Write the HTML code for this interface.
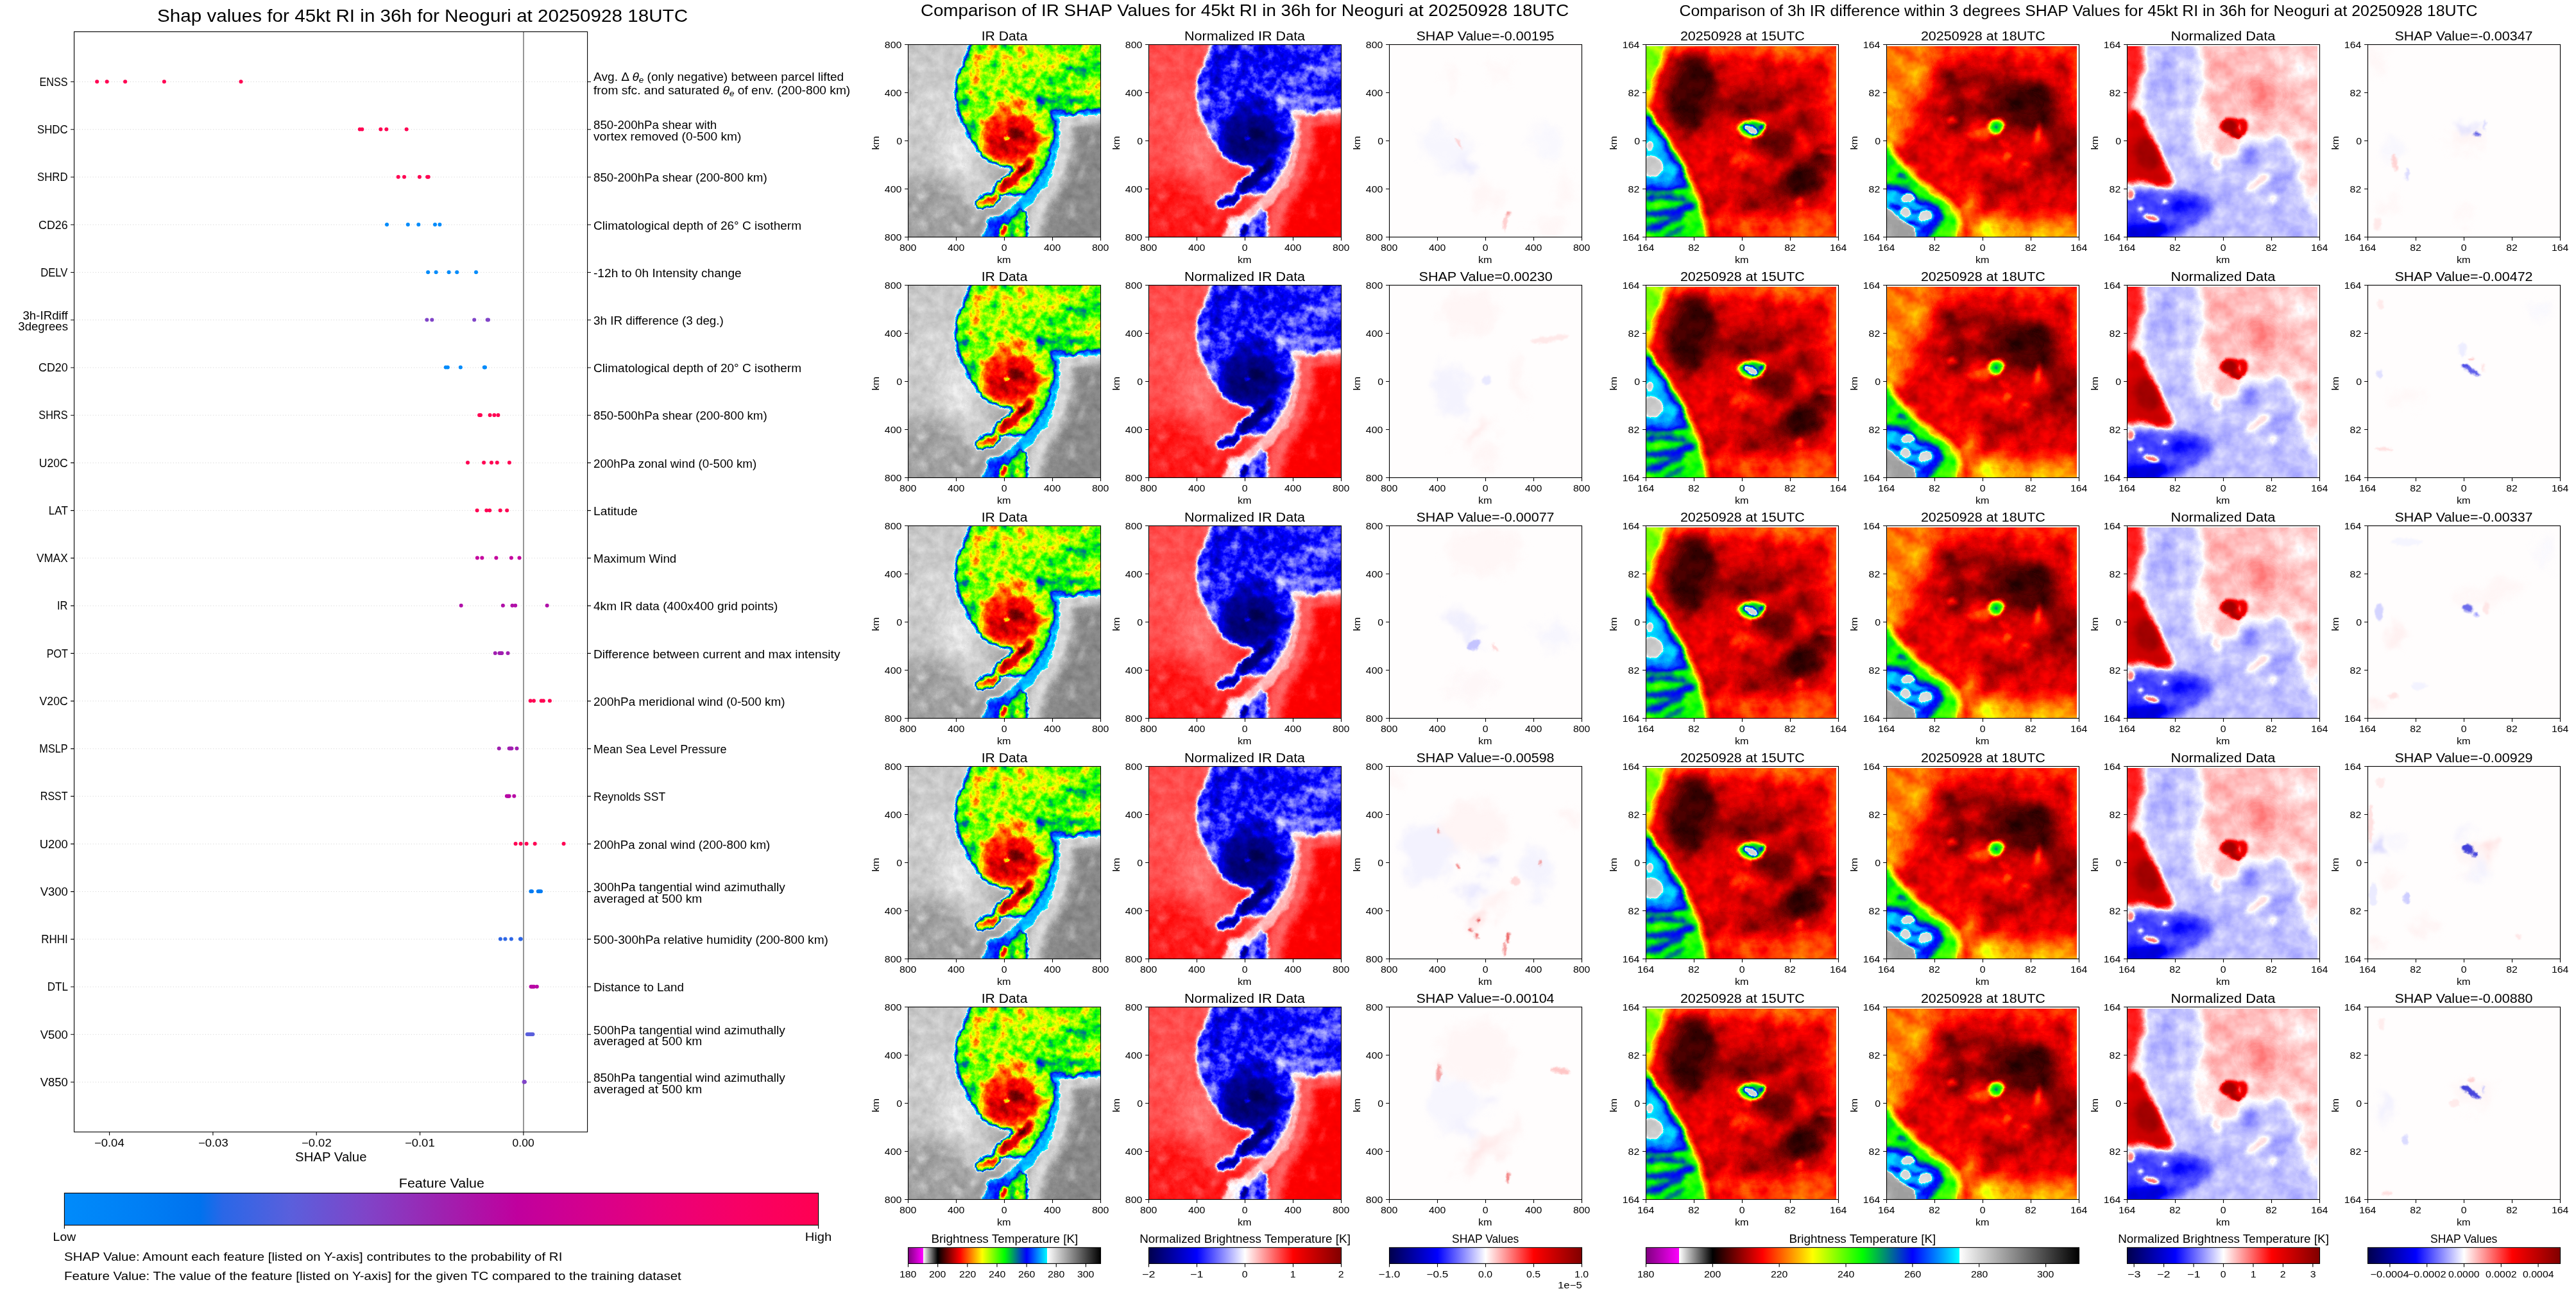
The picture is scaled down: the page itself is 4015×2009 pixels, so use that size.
<!DOCTYPE html>
<html><head><meta charset="utf-8"><title>SHAP figure</title><style>
html,body{margin:0;padding:0;background:#fff}
body{width:4015px;height:2009px;position:relative;overflow:hidden;font-family:"Liberation Sans",sans-serif}
.t{position:absolute;white-space:nowrap;line-height:1;color:#000}
.sb{font-size:70%;position:relative;top:.22em;font-style:italic}
svg{position:absolute;left:0;top:0}
</style></head><body>
<svg width="4015" height="2009" viewBox="0 0 4015 2009">
<g fill="none">
<path d="M115.55 127.50L915.60 127.50" stroke="#c4c4c4" stroke-width="0.9" stroke-dasharray="0.9 3.27"/>
<path d="M115.55 201.74L915.60 201.74" stroke="#c4c4c4" stroke-width="0.9" stroke-dasharray="0.9 3.27"/>
<path d="M115.55 275.98L915.60 275.98" stroke="#c4c4c4" stroke-width="0.9" stroke-dasharray="0.9 3.27"/>
<path d="M115.55 350.22L915.60 350.22" stroke="#c4c4c4" stroke-width="0.9" stroke-dasharray="0.9 3.27"/>
<path d="M115.55 424.46L915.60 424.46" stroke="#c4c4c4" stroke-width="0.9" stroke-dasharray="0.9 3.27"/>
<path d="M115.55 498.70L915.60 498.70" stroke="#c4c4c4" stroke-width="0.9" stroke-dasharray="0.9 3.27"/>
<path d="M115.55 572.94L915.60 572.94" stroke="#c4c4c4" stroke-width="0.9" stroke-dasharray="0.9 3.27"/>
<path d="M115.55 647.18L915.60 647.18" stroke="#c4c4c4" stroke-width="0.9" stroke-dasharray="0.9 3.27"/>
<path d="M115.55 721.42L915.60 721.42" stroke="#c4c4c4" stroke-width="0.9" stroke-dasharray="0.9 3.27"/>
<path d="M115.55 795.66L915.60 795.66" stroke="#c4c4c4" stroke-width="0.9" stroke-dasharray="0.9 3.27"/>
<path d="M115.55 869.90L915.60 869.90" stroke="#c4c4c4" stroke-width="0.9" stroke-dasharray="0.9 3.27"/>
<path d="M115.55 944.14L915.60 944.14" stroke="#c4c4c4" stroke-width="0.9" stroke-dasharray="0.9 3.27"/>
<path d="M115.55 1018.38L915.60 1018.38" stroke="#c4c4c4" stroke-width="0.9" stroke-dasharray="0.9 3.27"/>
<path d="M115.55 1092.62L915.60 1092.62" stroke="#c4c4c4" stroke-width="0.9" stroke-dasharray="0.9 3.27"/>
<path d="M115.55 1166.86L915.60 1166.86" stroke="#c4c4c4" stroke-width="0.9" stroke-dasharray="0.9 3.27"/>
<path d="M115.55 1241.10L915.60 1241.10" stroke="#c4c4c4" stroke-width="0.9" stroke-dasharray="0.9 3.27"/>
<path d="M115.55 1315.34L915.60 1315.34" stroke="#c4c4c4" stroke-width="0.9" stroke-dasharray="0.9 3.27"/>
<path d="M115.55 1389.58L915.60 1389.58" stroke="#c4c4c4" stroke-width="0.9" stroke-dasharray="0.9 3.27"/>
<path d="M115.55 1463.82L915.60 1463.82" stroke="#c4c4c4" stroke-width="0.9" stroke-dasharray="0.9 3.27"/>
<path d="M115.55 1538.06L915.60 1538.06" stroke="#c4c4c4" stroke-width="0.9" stroke-dasharray="0.9 3.27"/>
<path d="M115.55 1612.30L915.60 1612.30" stroke="#c4c4c4" stroke-width="0.9" stroke-dasharray="0.9 3.27"/>
<path d="M115.55 1686.54L915.60 1686.54" stroke="#c4c4c4" stroke-width="0.9" stroke-dasharray="0.9 3.27"/>
<path d="M816.00 49.50L816.00 1764.20" stroke="#969696" stroke-width="2.0" />
</g>
<g fill="#ff0052"><circle cx="151.2" cy="127.2" r="3"/><circle cx="166.7" cy="127.2" r="3"/><circle cx="195.1" cy="127.2" r="3"/><circle cx="255.9" cy="127.2" r="3"/><circle cx="375.5" cy="127.2" r="3"/></g>
<g fill="#ff0052"><circle cx="560.8" cy="201.4" r="3"/><circle cx="564.3" cy="201.4" r="3"/><circle cx="593.3" cy="201.4" r="3"/><circle cx="602.3" cy="201.4" r="3"/><circle cx="633.6" cy="201.4" r="3"/></g>
<g fill="#ff0052"><circle cx="620.7" cy="275.7" r="3"/><circle cx="630.0" cy="275.7" r="3"/><circle cx="653.9" cy="275.7" r="3"/><circle cx="666.1" cy="275.7" r="3"/><circle cx="667.7" cy="275.7" r="3"/></g>
<g fill="#008bfb"><circle cx="603.0" cy="349.9" r="3"/><circle cx="635.8" cy="349.9" r="3"/><circle cx="652.3" cy="349.9" r="3"/><circle cx="678.0" cy="349.9" r="3"/><circle cx="685.4" cy="349.9" r="3"/></g>
<g fill="#008bfb"><circle cx="667.1" cy="424.2" r="3"/><circle cx="679.6" cy="424.2" r="3"/><circle cx="699.6" cy="424.2" r="3"/><circle cx="712.2" cy="424.2" r="3"/><circle cx="742.0" cy="424.2" r="3"/></g>
<g fill="#8044c8"><circle cx="665.4" cy="498.4" r="3"/><circle cx="673.3" cy="498.4" r="3"/><circle cx="739.2" cy="498.4" r="3"/><circle cx="759.7" cy="498.4" r="3"/><circle cx="761.1" cy="498.4" r="3"/></g>
<g fill="#008bfb"><circle cx="694.8" cy="572.6" r="3"/><circle cx="697.8" cy="572.6" r="3"/><circle cx="717.8" cy="572.6" r="3"/><circle cx="754.8" cy="572.6" r="3"/><circle cx="756.0" cy="572.6" r="3"/></g>
<g fill="#ff0052"><circle cx="747.1" cy="646.9" r="3"/><circle cx="749.0" cy="646.9" r="3"/><circle cx="763.6" cy="646.9" r="3"/><circle cx="770.4" cy="646.9" r="3"/><circle cx="776.4" cy="646.9" r="3"/></g>
<g fill="#ff0052"><circle cx="729.0" cy="721.1" r="3"/><circle cx="754.1" cy="721.1" r="3"/><circle cx="766.0" cy="721.1" r="3"/><circle cx="774.8" cy="721.1" r="3"/><circle cx="793.9" cy="721.1" r="3"/></g>
<g fill="#ff0052"><circle cx="743.6" cy="795.4" r="3"/><circle cx="758.3" cy="795.4" r="3"/><circle cx="763.2" cy="795.4" r="3"/><circle cx="779.7" cy="795.4" r="3"/><circle cx="790.2" cy="795.4" r="3"/></g>
<g fill="#c4009e"><circle cx="743.9" cy="869.6" r="3"/><circle cx="751.3" cy="869.6" r="3"/><circle cx="773.4" cy="869.6" r="3"/><circle cx="796.9" cy="869.6" r="3"/><circle cx="809.5" cy="869.6" r="3"/></g>
<g fill="#b010a8"><circle cx="718.7" cy="943.8" r="3"/><circle cx="783.9" cy="943.8" r="3"/><circle cx="798.5" cy="943.8" r="3"/><circle cx="803.2" cy="943.8" r="3"/><circle cx="852.7" cy="943.8" r="3"/></g>
<g fill="#a01eb0"><circle cx="771.8" cy="1018.1" r="3"/><circle cx="778.5" cy="1018.1" r="3"/><circle cx="780.6" cy="1018.1" r="3"/><circle cx="782.2" cy="1018.1" r="3"/><circle cx="791.6" cy="1018.1" r="3"/></g>
<g fill="#ff0052"><circle cx="826.7" cy="1092.3" r="3"/><circle cx="832.0" cy="1092.3" r="3"/><circle cx="843.7" cy="1092.3" r="3"/><circle cx="846.9" cy="1092.3" r="3"/><circle cx="856.9" cy="1092.3" r="3"/></g>
<g fill="#a01eb0"><circle cx="777.8" cy="1166.6" r="3"/><circle cx="793.6" cy="1166.6" r="3"/><circle cx="795.5" cy="1166.6" r="3"/><circle cx="797.4" cy="1166.6" r="3"/><circle cx="805.5" cy="1166.6" r="3"/></g>
<g fill="#b808a5"><circle cx="789.9" cy="1240.8" r="3"/><circle cx="791.3" cy="1240.8" r="3"/><circle cx="792.7" cy="1240.8" r="3"/><circle cx="793.6" cy="1240.8" r="3"/><circle cx="801.3" cy="1240.8" r="3"/></g>
<g fill="#ff0052"><circle cx="803.6" cy="1315.0" r="3"/><circle cx="811.6" cy="1315.0" r="3"/><circle cx="820.6" cy="1315.0" r="3"/><circle cx="833.7" cy="1315.0" r="3"/><circle cx="878.6" cy="1315.0" r="3"/></g>
<g fill="#007bf2"><circle cx="827.4" cy="1389.3" r="3"/><circle cx="829.0" cy="1389.3" r="3"/><circle cx="838.8" cy="1389.3" r="3"/><circle cx="840.9" cy="1389.3" r="3"/><circle cx="843.0" cy="1389.3" r="3"/></g>
<g fill="#2e67e6"><circle cx="779.9" cy="1463.5" r="3"/><circle cx="787.4" cy="1463.5" r="3"/><circle cx="796.9" cy="1463.5" r="3"/><circle cx="811.8" cy="1463.5" r="3"/><circle cx="811.0" cy="1463.5" r="3"/></g>
<g fill="#b808a5"><circle cx="827.6" cy="1537.8" r="3"/><circle cx="829.0" cy="1537.8" r="3"/><circle cx="830.9" cy="1537.8" r="3"/><circle cx="832.3" cy="1537.8" r="3"/><circle cx="836.9" cy="1537.8" r="3"/></g>
<g fill="#5a5fdc"><circle cx="821.8" cy="1612.0" r="3"/><circle cx="824.1" cy="1612.0" r="3"/><circle cx="826.2" cy="1612.0" r="3"/><circle cx="828.5" cy="1612.0" r="3"/><circle cx="830.4" cy="1612.0" r="3"/></g>
<g fill="#8044c8"><circle cx="816.7" cy="1686.2" r="3"/><circle cx="817.8" cy="1686.2" r="3"/><circle cx="817.2" cy="1686.2" r="3"/><circle cx="817.0" cy="1686.2" r="3"/><circle cx="817.5" cy="1686.2" r="3"/></g>
<g fill="none">
<rect x="115.55" y="49.5" width="800.05" height="1714.70" stroke="#000" stroke-width="1.11"/>
<path d="M110.15 127.50H115.55M915.60 127.50h5.4M110.15 201.74H115.55M915.60 201.74h5.4M110.15 275.98H115.55M915.60 275.98h5.4M110.15 350.22H115.55M915.60 350.22h5.4M110.15 424.46H115.55M915.60 424.46h5.4M110.15 498.70H115.55M915.60 498.70h5.4M110.15 572.94H115.55M915.60 572.94h5.4M110.15 647.18H115.55M915.60 647.18h5.4M110.15 721.42H115.55M915.60 721.42h5.4M110.15 795.66H115.55M915.60 795.66h5.4M110.15 869.90H115.55M915.60 869.90h5.4M110.15 944.14H115.55M915.60 944.14h5.4M110.15 1018.38H115.55M915.60 1018.38h5.4M110.15 1092.62H115.55M915.60 1092.62h5.4M110.15 1166.86H115.55M915.60 1166.86h5.4M110.15 1241.10H115.55M915.60 1241.10h5.4M110.15 1315.34H115.55M915.60 1315.34h5.4M110.15 1389.58H115.55M915.60 1389.58h5.4M110.15 1463.82H115.55M915.60 1463.82h5.4M110.15 1538.06H115.55M915.60 1538.06h5.4M110.15 1612.30H115.55M915.60 1612.30h5.4M110.15 1686.54H115.55M915.60 1686.54h5.4M170.58 1764.2v5.4M331.91 1764.2v5.4M493.24 1764.2v5.4M654.57 1764.2v5.4M815.90 1764.2v5.4" stroke="#000" stroke-width="1.11"/>
</g>
<defs><linearGradient id="rb"><stop offset="0" stop-color="#008bfb"/><stop offset=".1" stop-color="#007ff5"/><stop offset=".18" stop-color="#0072ee"/><stop offset=".21" stop-color="#2a67e7"/><stop offset=".3" stop-color="#5a5fdc"/><stop offset=".4" stop-color="#8044c8"/><stop offset=".5" stop-color="#9e22b0"/><stop offset=".6" stop-color="#c0009e"/><stop offset=".7" stop-color="#d6008c"/><stop offset=".8" stop-color="#ea0078"/><stop offset=".9" stop-color="#f80064"/><stop offset="1" stop-color="#ff0052"/></linearGradient></defs>
<rect x="100.4" y="1859.5" width="1175.2" height="50" fill="url(#rb)" stroke="#000" stroke-width="1.11"/>
<path d="M100.4 1909.5v5.4M1275.6 1909.5v5.4" stroke="#000" stroke-width="1.11" fill="none"/>
<defs><linearGradient id="gIR"><stop offset="0.0000" stop-color="#800080"/><stop offset="0.0385" stop-color="#bf00bf"/><stop offset="0.0769" stop-color="#ff00ff"/><stop offset="0.0769" stop-color="#ffffff"/><stop offset="0.1154" stop-color="#808080"/><stop offset="0.1538" stop-color="#000000"/><stop offset="0.1923" stop-color="#550000"/><stop offset="0.2308" stop-color="#aa0000"/><stop offset="0.2692" stop-color="#ff0000"/><stop offset="0.3077" stop-color="#ff5500"/><stop offset="0.3462" stop-color="#ffaa00"/><stop offset="0.3846" stop-color="#ffff00"/><stop offset="0.4231" stop-color="#aaff00"/><stop offset="0.4615" stop-color="#55ff00"/><stop offset="0.5000" stop-color="#00ff00"/><stop offset="0.5385" stop-color="#00aa55"/><stop offset="0.5769" stop-color="#0055aa"/><stop offset="0.6154" stop-color="#0000ff"/><stop offset="0.6538" stop-color="#005bff"/><stop offset="0.6923" stop-color="#00b6ff"/><stop offset="0.7231" stop-color="#00ffff"/><stop offset="0.7231" stop-color="#ffffff"/><stop offset="0.7692" stop-color="#d4d4d4"/><stop offset="0.8462" stop-color="#8e8e8e"/><stop offset="0.9231" stop-color="#474747"/><stop offset="1.0000" stop-color="#000000"/></linearGradient><linearGradient id="gSE"><stop offset="0" stop-color="#00004c"/><stop offset=".25" stop-color="#0000ff"/><stop offset=".5" stop-color="#fff"/><stop offset=".75" stop-color="#ff0000"/><stop offset="1" stop-color="#800000"/></linearGradient></defs>
<defs><filter id="b1" x="-50%" y="-50%" width="200%" height="200%" color-interpolation-filters="sRGB"><feGaussianBlur stdDeviation="1"/></filter><filter id="b1_5" x="-50%" y="-50%" width="200%" height="200%" color-interpolation-filters="sRGB"><feGaussianBlur stdDeviation="1.5"/></filter><filter id="b2" x="-50%" y="-50%" width="200%" height="200%" color-interpolation-filters="sRGB"><feGaussianBlur stdDeviation="2"/></filter><filter id="b3" x="-50%" y="-50%" width="200%" height="200%" color-interpolation-filters="sRGB"><feGaussianBlur stdDeviation="3"/></filter><filter id="b4" x="-50%" y="-50%" width="200%" height="200%" color-interpolation-filters="sRGB"><feGaussianBlur stdDeviation="4"/></filter><filter id="b5" x="-50%" y="-50%" width="200%" height="200%" color-interpolation-filters="sRGB"><feGaussianBlur stdDeviation="5"/></filter><filter id="b6" x="-50%" y="-50%" width="200%" height="200%" color-interpolation-filters="sRGB"><feGaussianBlur stdDeviation="6"/></filter><filter id="b8" x="-50%" y="-50%" width="200%" height="200%" color-interpolation-filters="sRGB"><feGaussianBlur stdDeviation="8"/></filter><filter id="b10" x="-50%" y="-50%" width="200%" height="200%" color-interpolation-filters="sRGB"><feGaussianBlur stdDeviation="10"/></filter><filter id="b14" x="-50%" y="-50%" width="200%" height="200%" color-interpolation-filters="sRGB"><feGaussianBlur stdDeviation="14"/></filter><filter id="b20" x="-50%" y="-50%" width="200%" height="200%" color-interpolation-filters="sRGB"><feGaussianBlur stdDeviation="20"/></filter><clipPath id="c300"><rect width="300" height="300"/></clipPath><clipPath id="c4"><rect y="2.5" width="296.5" height="297.5"/></clipPath><filter id="fIR" filterUnits="userSpaceOnUse" x="-20" y="-20" width="340" height="340" color-interpolation-filters="sRGB"><feTurbulence type="fractalNoise" baseFrequency="0.07" numOctaves="4" seed="7" result="n"/><feDisplacementMap in="SourceGraphic" in2="n" scale="9" xChannelSelector="R" yChannelSelector="G" result="d"/><feColorMatrix in="n" type="matrix" values="0 0 1 0 0 0 0 1 0 0 0 0 1 0 0 0 0 0 0 1" result="ng"/><feComponentTransfer in="d" result="m"><feFuncR type="table" tableValues="0 0 0.04 0.08 0.14 0.28 0.34 0.2 0.12 0.08 0.05 0.05 0.05 0.05"/><feFuncG type="table" tableValues="0 0 0.04 0.08 0.14 0.28 0.34 0.2 0.12 0.08 0.05 0.05 0.05 0.05"/><feFuncB type="table" tableValues="0 0 0.04 0.08 0.14 0.28 0.34 0.2 0.12 0.08 0.05 0.05 0.05 0.05"/></feComponentTransfer><feComposite in="m" in2="ng" operator="arithmetic" k1="1" k2="0" k3="0" k4="0" result="p"/><feComposite in="d" in2="m" operator="arithmetic" k1="0" k2="1" k3="-0.5" k4="0" result="t"/><feComposite in="t" in2="p" operator="arithmetic" k1="0" k2="1" k3="1" k4="0" result="f"/><feComponentTransfer in="f"><feFuncR type="table" tableValues="0.5 0.55 0.6 0.65 0.7 0.75 0.8 0.85 0.9 0.95 1 0.9 0.8 0.7 0.6 0.5 0.4 0.3 0.2 0.1 0 0.067 0.133 0.2 0.267 0.333 0.4 0.467 0.533 0.6 0.667 0.733 0.8 0.867 0.933 1 1 1 1 1 1 1 1 1 1 1 1 1 1 1 1 0.933 0.867 0.8 0.733 0.667 0.6 0.533 0.467 0.4 0.333 0.267 0.2 0.133 0.067 0 0 0 0 0 0 0 0 0 0 0 0 0 0 0 0 0 0 0 0 0 0 0 0 0 0 0 0 0 0 0.972 0.944 0.917 0.889 0.861 0.833 0.806 0.778 0.75 0.722 0.694 0.667 0.639 0.611 0.583 0.556 0.528 0.5 0.472 0.444 0.417 0.389 0.361 0.333 0.306 0.278 0.25 0.222 0.194 0.167 0.139 0.111 0.083 0.056 0.028 0"/><feFuncG type="table" tableValues="0 0 0 0 0 0 0 0 0 0 0 0.9 0.8 0.7 0.6 0.5 0.4 0.3 0.2 0.1 0 0 0 0 0 0 0 0 0 0 0 0 0 0 0 0 0.067 0.133 0.2 0.267 0.333 0.4 0.467 0.533 0.6 0.667 0.733 0.8 0.867 0.933 1 1 1 1 1 1 1 1 1 1 1 1 1 1 1 1 0.933 0.867 0.8 0.733 0.667 0.6 0.533 0.467 0.4 0.333 0.267 0.2 0.133 0.067 0 0.071 0.143 0.214 0.286 0.357 0.429 0.5 0.571 0.643 0.714 0.786 0.857 0.929 1 0.972 0.944 0.917 0.889 0.861 0.833 0.806 0.778 0.75 0.722 0.694 0.667 0.639 0.611 0.583 0.556 0.528 0.5 0.472 0.444 0.417 0.389 0.361 0.333 0.306 0.278 0.25 0.222 0.194 0.167 0.139 0.111 0.083 0.056 0.028 0"/><feFuncB type="table" tableValues="0.5 0.55 0.6 0.65 0.7 0.75 0.8 0.85 0.9 0.95 1 0.9 0.8 0.7 0.6 0.5 0.4 0.3 0.2 0.1 0 0 0 0 0 0 0 0 0 0 0 0 0 0 0 0 0 0 0 0 0 0 0 0 0 0 0 0 0 0 0 0 0 0 0 0 0 0 0 0 0 0 0 0 0 0 0.067 0.133 0.2 0.267 0.333 0.4 0.467 0.533 0.6 0.667 0.733 0.8 0.867 0.933 1 1 1 1 1 1 1 1 1 1 1 1 1 1 1 0.972 0.944 0.917 0.889 0.861 0.833 0.806 0.778 0.75 0.722 0.694 0.667 0.639 0.611 0.583 0.556 0.528 0.5 0.472 0.444 0.417 0.389 0.361 0.333 0.306 0.278 0.25 0.222 0.194 0.167 0.139 0.111 0.083 0.056 0.028 0"/></feComponentTransfer></filter><filter id="fSE1" filterUnits="userSpaceOnUse" x="-20" y="-20" width="340" height="340" color-interpolation-filters="sRGB"><feTurbulence type="fractalNoise" baseFrequency="0.07" numOctaves="4" seed="7" result="n"/><feDisplacementMap in="SourceGraphic" in2="n" scale="9" xChannelSelector="R" yChannelSelector="G" result="d"/><feColorMatrix in="n" type="matrix" values="0 0 1 0 0 0 0 1 0 0 0 0 1 0 0 0 0 0 0 1" result="ng"/><feComponentTransfer in="d" result="m"><feFuncR type="table" tableValues="0 0 0.04 0.08 0.14 0.28 0.34 0.2 0.12 0.08 0.05 0.05 0.05 0.05"/><feFuncG type="table" tableValues="0 0 0.04 0.08 0.14 0.28 0.34 0.2 0.12 0.08 0.05 0.05 0.05 0.05"/><feFuncB type="table" tableValues="0 0 0.04 0.08 0.14 0.28 0.34 0.2 0.12 0.08 0.05 0.05 0.05 0.05"/></feComponentTransfer><feComposite in="m" in2="ng" operator="arithmetic" k1="1" k2="0" k3="0" k4="0" result="p"/><feComposite in="d" in2="m" operator="arithmetic" k1="0" k2="1" k3="-0.5" k4="0" result="t"/><feComposite in="t" in2="p" operator="arithmetic" k1="0" k2="1" k3="1" k4="0" result="f"/><feComponentTransfer in="f"><feFuncR type="table" tableValues="0 0 0 0 0 0 0 0 0 0 0 0 0 0 0 0 0 0 0 0 0 0 0 0 0 0 0 0 0 0 0 0 0 0 0 0 0 0 0 0 0 0 0 0 0 0 0 0 0 0 0 0 0 0 0 0.036 0.071 0.107 0.143 0.179 0.214 0.25 0.286 0.321 0.357 0.393 0.429 0.464 0.5 0.536 0.571 0.607 0.643 0.679 0.714 0.75 0.786 0.821 0.857 0.893 0.929 0.964 1 1 1 1 1 1 1 1 1 1 1 1 1 1 1 1 1 1 1 1 1 1 1 1 1 1 1 1 1 0.982 0.964 0.946 0.929 0.911 0.893 0.875 0.857 0.839 0.821 0.804 0.786 0.768 0.75 0.732 0.714 0.696 0.679 0.661 0.643"/><feFuncG type="table" tableValues="0 0 0 0 0 0 0 0 0 0 0 0 0 0 0 0 0 0 0 0 0 0 0 0 0 0 0 0 0 0 0 0 0 0 0 0 0 0 0 0 0 0 0 0 0 0 0 0 0 0 0 0 0 0 0 0.036 0.071 0.107 0.143 0.179 0.214 0.25 0.286 0.321 0.357 0.393 0.429 0.464 0.5 0.536 0.571 0.607 0.643 0.679 0.714 0.75 0.786 0.821 0.857 0.893 0.929 0.964 1 0.964 0.929 0.893 0.857 0.821 0.786 0.75 0.714 0.679 0.643 0.607 0.571 0.536 0.5 0.464 0.429 0.393 0.357 0.321 0.286 0.25 0.214 0.179 0.143 0.107 0.071 0.036 0 0 0 0 0 0 0 0 0 0 0 0 0 0 0 0 0 0 0 0 0"/><feFuncB type="table" tableValues="0.3 0.3 0.3 0.3 0.3 0.3 0.3 0.3 0.3 0.3 0.3 0.3 0.3 0.3 0.3 0.3 0.3 0.3 0.3 0.3 0.3 0.3 0.3 0.3 0.3 0.3 0.3 0.325 0.35 0.375 0.4 0.425 0.45 0.475 0.5 0.525 0.55 0.575 0.6 0.625 0.65 0.675 0.7 0.725 0.75 0.775 0.8 0.825 0.85 0.875 0.9 0.925 0.95 0.975 1 1 1 1 1 1 1 1 1 1 1 1 1 1 1 1 1 1 1 1 1 1 1 1 1 1 1 1 1 0.964 0.929 0.893 0.857 0.821 0.786 0.75 0.714 0.679 0.643 0.607 0.571 0.536 0.5 0.464 0.429 0.393 0.357 0.321 0.286 0.25 0.214 0.179 0.143 0.107 0.071 0.036 0 0 0 0 0 0 0 0 0 0 0 0 0 0 0 0 0 0 0 0 0"/></feComponentTransfer></filter><filter id="shA" filterUnits="userSpaceOnUse" x="-20" y="-20" width="340" height="340" color-interpolation-filters="sRGB"><feGaussianBlur stdDeviation="7" result="b"/><feTurbulence type="fractalNoise" baseFrequency="0.03" numOctaves="3" seed="4" result="n"/><feDisplacementMap in="b" in2="n" scale="40" xChannelSelector="R" yChannelSelector="G"/></filter><filter id="shB" filterUnits="userSpaceOnUse" x="-20" y="-20" width="340" height="340" color-interpolation-filters="sRGB"><feGaussianBlur stdDeviation="1.3" result="b"/><feTurbulence type="fractalNoise" baseFrequency="0.12" numOctaves="2" seed="9" result="n"/><feDisplacementMap in="b" in2="n" scale="7" xChannelSelector="R" yChannelSelector="G"/></filter><g id="F1"><rect x="-30" y="-30" width="360" height="360" fill="#d5d5d5"/><g filter="url(#b14)"><path d="M-30 -30H120L90 140 130 200 -30 220Z" fill="#c7c7c7"/><path d="M-30 215L120 195 150 260 110 330H-30Z" fill="#d3d3d3"/><ellipse cx="161" cy="240" rx="12" ry="9" fill="#bababa"/><ellipse cx="82" cy="165" rx="33" ry="44" fill="#bfbfbf"/><ellipse cx="35" cy="95" rx="30" ry="16" fill="#c2c2c2" transform="rotate(-35 35 95)"/><path d="M240 125L330 110V330H200Z" fill="#d9d9d9"/><path d="M60 210L140 195 150 230 110 260Z" fill="#c6c6c6"/></g><g filter="url(#b3)"><ellipse cx="20" cy="235" rx="9" ry="5" fill="#c8c8c8"/><ellipse cx="48" cy="262" rx="12" ry="6" fill="#c9c9c9" transform="rotate(-20 48 262)"/><ellipse cx="22" cy="280" rx="8" ry="8" fill="#cacaca"/><ellipse cx="75" cy="285" rx="10" ry="5" fill="#c8c8c8" transform="rotate(20 75 285)"/><ellipse cx="95" cy="240" rx="8" ry="10" fill="#c6c6c6"/><ellipse cx="60" cy="225" rx="10" ry="4" fill="#c8c8c8" transform="rotate(-15 60 225)"/><ellipse cx="10" cy="255" rx="5" ry="8" fill="#cacaca"/><ellipse cx="100" cy="275" rx="6" ry="8" fill="#c9c9c9"/><ellipse cx="270" cy="200" rx="3" ry="14" fill="#cccccc" transform="rotate(20 270 200)"/><ellipse cx="255" cy="260" rx="3" ry="16" fill="#cdcdcd" transform="rotate(15 255 260)"/><ellipse cx="285" cy="150" rx="2.5" ry="10" fill="#cccccc" transform="rotate(25 285 150)"/></g><g filter="url(#b6)" fill="none" stroke-linecap="round"><path d="M244 118C250 160 242 190 226 218S198 262 192 310" stroke="#c2c2c2" stroke-width="22"/><path d="M232 115Q262 116 310 112" stroke="#c2c2c2" stroke-width="18"/></g><g filter="url(#b2)" fill="none" stroke-linecap="round"><path d="M229 118C235 150 229 175 218 197" stroke="#afafaf" stroke-width="11"/><path d="M218 197C207 217 180 253 150 271" stroke="#b0b0b0" stroke-width="18"/><path d="M98 135Q116 163 150 184" stroke="#ababab" stroke-width="9"/><path d="M226 106Q262 107 310 103" stroke="#a9a9a9" stroke-width="9"/><path d="M150 272Q128 280 120 310" stroke="#a7a7a7" stroke-width="16"/><path d="M135 280L150 310" stroke="#a1a1a1" stroke-width="26"/></g><g filter="url(#b2)"><path d="M101 -30L100 0 90 25 81 44 76.5 62 76 78 79 99 84 113 94 132 101 148 110 159 121 168 133 176 146 182 158 186 170 190 164 199 154 208 145 216 137 223 134 229 150 231 167 234 183 230 195 216 206 199 215 181 222 161 227 141 227 126 223 113 219 105 224 101 236 99 248 104 258 107 268 103 281 101 300 99 330 97 V-30Z" fill="#727272" stroke="#a3a3a3" stroke-width="7" stroke-linejoin="round" paint-order="stroke"/><ellipse cx="125" cy="243" rx="20" ry="9.5" fill="#767676" transform="rotate(-25 125 243)"/><path d="M161 266L172 258 184 262 186 280 184 310H150L154 285Z" fill="#7c7c7c"/></g><g filter="url(#b5)"><ellipse cx="195" cy="22" rx="40" ry="16" fill="#666666"/><ellipse cx="246" cy="22" rx="14" ry="10" fill="#6a6a6a"/><ellipse cx="289" cy="66" rx="14" ry="18" fill="#666666"/><ellipse cx="152" cy="50" rx="30" ry="18" fill="#6a6a6a"/><ellipse cx="102" cy="52" rx="11" ry="36" fill="#626262" transform="rotate(18 102 52)"/><ellipse cx="129" cy="10" rx="6" ry="11" fill="#525252" transform="rotate(20 129 10)"/><ellipse cx="218" cy="88" rx="28" ry="7" fill="#959595" transform="rotate(14 218 88)"/><ellipse cx="272" cy="44" rx="14" ry="6" fill="#939393" transform="rotate(10 272 44)"/><ellipse cx="260" cy="4" rx="12" ry="5" fill="#959595"/><ellipse cx="294" cy="32" rx="8" ry="8" fill="#939393"/><ellipse cx="262" cy="86" rx="30" ry="6" fill="#8f8f8f" transform="rotate(-8 262 86)"/><ellipse cx="235" cy="58" rx="16" ry="7" fill="#878787" transform="rotate(-25 235 58)"/><ellipse cx="101" cy="128" rx="7" ry="9" fill="#9b9b9b"/><ellipse cx="86" cy="85" rx="5" ry="22" fill="#8b8b8b"/></g><g filter="url(#b4)"><ellipse cx="162" cy="141" rx="56" ry="50" fill="#646464"/><ellipse cx="158" cy="96" rx="28" ry="10" fill="#585858" transform="rotate(-30 158 96)"/><ellipse cx="148" cy="112" rx="30" ry="14" fill="#505050" transform="rotate(-32 148 112)"/></g><g filter="url(#b3)"><ellipse cx="161" cy="146" rx="47" ry="40" fill="#4c4c4c" transform="rotate(-15 161 146)"/><ellipse cx="162" cy="148" rx="40" ry="33" fill="#444444" transform="rotate(-15 162 148)"/><ellipse cx="202" cy="128" rx="4" ry="9" fill="#767676" transform="rotate(-20 202 128)"/><ellipse cx="167" cy="106" rx="4" ry="3" fill="#767676"/></g><g filter="url(#b3)"><ellipse cx="167" cy="140" rx="12" ry="7" fill="#333333" transform="rotate(25 167 140)"/><ellipse cx="150" cy="160" rx="14" ry="6" fill="#3d3d3d" transform="rotate(30 150 160)"/></g><circle cx="153.2" cy="145.8" r="2.8" fill="#7a7a7a" filter="url(#b1)"/><g filter="url(#b2)" fill="none" stroke-linecap="round"><path d="M188 184Q182 198 163 210T146 223" stroke="#565656" stroke-width="18"/><path d="M186 186Q181 198 163 210T148 222" stroke="#3d3d3d" stroke-width="13"/><path d="M181 191L174 199" stroke="#2d2d2d" stroke-width="6"/><path d="M113 248L137 238" stroke="#565656" stroke-width="10"/><path d="M117 246L133 239" stroke="#3f3f3f" stroke-width="5"/><path d="M146 296Q150 288 151 284" stroke="#3f3f3f" stroke-width="9"/><path d="M170 294L171 288" stroke="#585858" stroke-width="6"/></g></g><g id="F4"><rect x="-30" y="-30" width="360" height="360" fill="#414141"/><g filter="url(#b10)"><path d="M30 -30H330V22Q200 30 120 14L30 22Z" fill="#4c4c4c"/><ellipse cx="200" cy="2" rx="40" ry="10" fill="#515151"/><path d="M278 -30H330V330H100V272Q180 264 240 262T290 240Q270 120 278 -30Z" fill="#4a4a4a"/><ellipse cx="250" cy="284" rx="50" ry="16" fill="#4e4e4e"/><ellipse cx="120" cy="235" rx="45" ry="30" fill="#404040"/><ellipse cx="146" cy="166" rx="20" ry="24" fill="#484848" transform="rotate(-30 146 166)"/></g><g filter="url(#b8)"><ellipse cx="72" cy="74" rx="40" ry="64" fill="#323232" transform="rotate(8 72 74)"/><ellipse cx="72" cy="62" rx="28" ry="40" fill="#2f2f2f" transform="rotate(8 72 62)"/><ellipse cx="62" cy="114" rx="22" ry="24" fill="#2f2f2f"/><ellipse cx="165" cy="88" rx="62" ry="26" fill="#383838" transform="rotate(-8 165 88)"/><ellipse cx="206" cy="154" rx="28" ry="25" fill="#333333"/><ellipse cx="242" cy="212" rx="38" ry="25" fill="#2d2d2d" transform="rotate(-20 242 212)"/><ellipse cx="276" cy="180" rx="24" ry="18" fill="#333333" transform="rotate(-30 276 180)"/><ellipse cx="190" cy="240" rx="36" ry="14" fill="#353535" transform="rotate(-25 190 240)"/><ellipse cx="255" cy="120" rx="30" ry="16" fill="#3a3a3a" transform="rotate(20 255 120)"/></g><g filter="url(#b3)"><ellipse cx="140" cy="178" rx="5" ry="5" fill="#4e4e4e"/><ellipse cx="131" cy="162" rx="5" ry="5" fill="#4c4c4c"/><ellipse cx="150" cy="192" rx="5" ry="4" fill="#4c4c4c"/><ellipse cx="158" cy="150" rx="7" ry="5" fill="#4c4c4c"/><ellipse cx="238" cy="246" rx="5" ry="8" fill="#4e4e4e" transform="rotate(30 238 246)"/><ellipse cx="282" cy="166" rx="14" ry="2.5" fill="#505050" transform="rotate(5 282 166)"/></g><g filter="url(#b3)"><path d="M-30 -30H44L38 2 26 40 12 72 5 97 27 130 49 164 69 202 84 239 96 276 102 330H-30Z" fill="#5a5a5a"/></g><g filter="url(#b2)"><path d="M-30 -30H32L28 2 17 40 4 70 -30 80Z" fill="#727272"/><path d="M-30 95L2 99 22 132 43 166 62 204 77 240 89 277 94 330H-30Z" fill="#7c7c7c"/></g><g filter="url(#b3)"><path d="M-30 106L6 110 22 134 40 166 60 200 64 222 40 228 -30 232Z" fill="#a1a1a1"/></g><g filter="url(#b3)"><path d="M-30 122L4 124 16 140 32 170 48 200 40 216 -30 222Z" fill="#b1b1b1"/><path d="M-10 262Q30 268 68 252" stroke="#9d9d9d" stroke-width="12" fill="none" stroke-linecap="round" stroke-linejoin="round"/><path d="M-10 292Q20 284 54 268" stroke="#9d9d9d" stroke-width="11" fill="none" stroke-linecap="round" stroke-linejoin="round"/><path d="M4 240Q30 234 58 240" stroke="#999999" stroke-width="10" fill="none" stroke-linecap="round" stroke-linejoin="round"/><path d="M30 300L60 284" stroke="#959595" stroke-width="6" fill="none" stroke-linecap="round" stroke-linejoin="round"/></g><g filter="url(#b2)"><ellipse cx="10" cy="190" rx="16" ry="17" fill="#c6c6c6" transform="rotate(-25 10 190)"/><ellipse cx="4" cy="158" rx="6" ry="6" fill="#c4c4c4"/></g><g filter="url(#b2)"><ellipse cx="165" cy="131" rx="22" ry="15" fill="#5e5e5e" transform="rotate(5 165 131)"/></g><g filter="url(#b2)"><ellipse cx="165" cy="131" rx="18.5" ry="11.5" fill="#838383" transform="rotate(8 165 131)"/><ellipse cx="181" cy="128.5" rx="4.5" ry="4.5" fill="#9b9b9b"/></g><g filter="url(#b1_5)"><ellipse cx="163.5" cy="131.5" rx="12.5" ry="6" fill="#c4c4c4" transform="rotate(33 163.5 131.5)"/></g></g><g id="F5"><rect x="-30" y="-30" width="360" height="360" fill="#424242"/><g filter="url(#b10)"><path d="M-30 -30H100L64 70 26 150 -30 165Z" fill="#535353"/><ellipse cx="0" cy="125" rx="7" ry="36" fill="#616161"/><path d="M60 -30H330V14Q200 24 60 10Z" fill="#484848"/><path d="M284 -30H330V130H290Z" fill="#484848"/><path d="M118 330V274Q170 260 230 270T330 248V330Z" fill="#535353"/><ellipse cx="165" cy="292" rx="34" ry="14" fill="#626262"/><ellipse cx="262" cy="290" rx="46" ry="14" fill="#575757"/><ellipse cx="128" cy="246" rx="22" ry="16" fill="#525252" transform="rotate(-30 128 246)"/></g><g filter="url(#b8)"><ellipse cx="210" cy="95" rx="62" ry="42" fill="#323232" transform="rotate(10 210 95)"/><ellipse cx="216" cy="88" rx="34" ry="22" fill="#2e2e2e" transform="rotate(15 216 88)"/><ellipse cx="112" cy="108" rx="22" ry="30" fill="#353535" transform="rotate(25 112 108)"/><ellipse cx="104" cy="62" rx="18" ry="26" fill="#363636" transform="rotate(-20 104 62)"/><ellipse cx="146" cy="52" rx="30" ry="14" fill="#373737" transform="rotate(-10 146 52)"/><ellipse cx="274" cy="165" rx="26" ry="50" fill="#373737"/><ellipse cx="188" cy="226" rx="36" ry="13" fill="#383838" transform="rotate(-15 188 226)"/><ellipse cx="150" cy="100" rx="22" ry="14" fill="#3a3a3a" transform="rotate(-30 150 100)"/><ellipse cx="232" cy="190" rx="24" ry="18" fill="#3c3c3c" transform="rotate(-30 232 190)"/></g><g filter="url(#b3)"><ellipse cx="150" cy="139" rx="12" ry="9" fill="#505050" transform="rotate(-20 150 139)"/><ellipse cx="183" cy="154" rx="6" ry="5" fill="#4f4f4f"/><ellipse cx="188" cy="174" rx="6" ry="6" fill="#4e4e4e"/><ellipse cx="235" cy="140" rx="4" ry="19" fill="#4d4d4d" transform="rotate(5 235 140)"/><ellipse cx="102" cy="118" rx="8" ry="5" fill="#4c4c4c"/><ellipse cx="132" cy="142" rx="6" ry="6" fill="#4c4c4c"/><ellipse cx="216" cy="186" rx="6" ry="5" fill="#4c4c4c"/></g><g filter="url(#b3)"><path d="M-30 140L2 150 20 174 44 202 72 224 97 239 114 259 119 284 119 330H-30Z" fill="#5e5e5e"/></g><g filter="url(#b2)"><path d="M-30 152L0 160 16 182 40 209 68 232 92 247 106 264 110 286 110 330H-30Z" fill="#7c7c7c"/></g><g filter="url(#b3)"><path d="M-30 214L10 216 36 226 62 244 84 256 92 270 78 284 64 300 60 330H-30Z" fill="#9f9f9f"/><ellipse cx="24" cy="206" rx="7" ry="6" fill="#9b9b9b"/></g><g filter="url(#b2)"><path d="M-30 226L12 228 38 240 64 256 76 268 64 282 48 290 40 330H-30Z" fill="#b1b1b1"/><path d="M6 250Q30 262 70 258" stroke="#999999" stroke-width="4" fill="none" stroke-linecap="round" stroke-linejoin="round"/><path d="M22 282Q40 272 56 284" stroke="#999999" stroke-width="4" fill="none" stroke-linecap="round" stroke-linejoin="round"/></g><g filter="url(#b1_5)"><ellipse cx="34" cy="239" rx="12" ry="7" fill="#c4c4c4" transform="rotate(-10 34 239)"/><ellipse cx="29" cy="261" rx="8" ry="8" fill="#c4c4c4"/><ellipse cx="60" cy="267" rx="11" ry="9" fill="#c4c4c4" transform="rotate(-15 60 267)"/><path d="M-30 252L6 256 20 272 44 284 48 330H-30Z" fill="#d2d2d2"/></g><g filter="url(#b2)"><ellipse cx="170.5" cy="128" rx="14" ry="12.5" fill="#5a5a5a"/></g><g filter="url(#b2)"><ellipse cx="171" cy="128" rx="10" ry="9" fill="#7c7c7c"/></g><g filter="url(#b1)"><ellipse cx="171" cy="127.5" rx="2.5" ry="2.5" fill="#8b8b8b"/></g></g><g id="F6"><rect x="-30" y="-30" width="360" height="360" fill="#818181"/><g filter="url(#b10)"><path d="M112 -30H330V150Q280 130 235 140L190 130 150 175 120 150 108 110 118 60Z" fill="#8e8e8e"/><ellipse cx="213" cy="78" rx="36" ry="28" fill="#9b9b9b"/><ellipse cx="160" cy="40" rx="40" ry="30" fill="#919191"/><ellipse cx="270" cy="40" rx="30" ry="24" fill="#848484"/><ellipse cx="288" cy="175" rx="22" ry="44" fill="#898989"/><ellipse cx="250" cy="255" rx="30" ry="22" fill="#888888" transform="rotate(-30 250 255)"/></g><g filter="url(#b8)"><path d="M36 -30H104L112 60 100 120 118 165 150 190 200 152 240 146 262 180 272 230 290 264 330 276V330H60L70 215 40 150 28 100Z" fill="#717171"/><ellipse cx="193" cy="172" rx="16" ry="12" fill="#606060"/><ellipse cx="238" cy="214" rx="22" ry="13" fill="#666666" transform="rotate(-30 238 214)"/><ellipse cx="150" cy="225" rx="40" ry="20" fill="#6c6c6c"/><ellipse cx="280" cy="294" rx="40" ry="12" fill="#6e6e6e"/><ellipse cx="60" cy="60" rx="14" ry="40" fill="#6c6c6c"/></g><g filter="url(#b4)"><ellipse cx="204" cy="216" rx="24" ry="7" fill="#898989" transform="rotate(-30 204 216)"/><ellipse cx="139" cy="186" rx="6" ry="9" fill="#939393" transform="rotate(-30 139 186)"/><ellipse cx="144" cy="152" rx="7" ry="6" fill="#939393"/><ellipse cx="228" cy="240" rx="6" ry="6" fill="#919191"/><ellipse cx="120" cy="115" rx="8" ry="30" fill="#838383"/><path d="M262 157H290" stroke="#a7a7a7" stroke-width="3" fill="none" stroke-linecap="round" stroke-linejoin="round"/></g><g filter="url(#b4)"><path d="M-30 -30H24L26 30 14 70 6 100 -30 104Z" fill="#b7b7b7"/><path d="M-30 100L16 104 30 130 48 165 64 196 72 216 50 222 20 212 -30 220Z" fill="#d8d8d8"/><ellipse cx="0" cy="98" rx="9" ry="18" fill="#b3b3b3"/></g><g filter="url(#b5)"><ellipse cx="30" cy="170" rx="18" ry="26" fill="#eeeeee" transform="rotate(-25 30 170)"/></g><g filter="url(#b6)"><path d="M-30 224L60 226 110 232 140 250 110 280 70 300 60 330H-30Z" fill="#525252"/><ellipse cx="30" cy="292" rx="36" ry="12" fill="#313131" transform="rotate(-10 30 292)"/><ellipse cx="84" cy="252" rx="26" ry="9" fill="#3c3c3c" transform="rotate(-15 84 252)"/></g><g filter="url(#b2)"><ellipse cx="38" cy="270" rx="12" ry="5" fill="#a7a7a7" transform="rotate(15 38 270)"/><ellipse cx="6" cy="232" rx="6" ry="8" fill="#a3a3a3"/><ellipse cx="60" cy="246" rx="5" ry="3" fill="#8f8f8f"/><ellipse cx="20" cy="256" rx="4" ry="3" fill="#8f8f8f"/></g><g filter="url(#b2)"><path d="M144 122L156 116 170 118 180 116 188 122 186 134 176 146 166 144 152 138 144 130Z" fill="#cecece"/></g><g filter="url(#b1_5)"><ellipse cx="160" cy="128" rx="11" ry="8" fill="#eaeaea" transform="rotate(20 160 128)"/><ellipse cx="170" cy="140" rx="8" ry="4" fill="#e6e6e6" transform="rotate(20 170 140)"/><ellipse cx="176" cy="128" rx="2" ry="6" fill="#9f9f9f" transform="rotate(-10 176 128)"/></g></g><filter id="fSE6" filterUnits="userSpaceOnUse" x="-20" y="-20" width="340" height="340" color-interpolation-filters="sRGB"><feTurbulence type="fractalNoise" baseFrequency="0.04" numOctaves="3" seed="5" result="n"/><feDisplacementMap in="SourceGraphic" in2="n" scale="8" xChannelSelector="R" yChannelSelector="G" result="d"/><feColorMatrix in="n" type="matrix" values="0 0 1 0 0 0 0 1 0 0 0 0 1 0 0 0 0 0 0 1" result="ng"/><feComponentTransfer in="d" result="m"><feFuncR type="table" tableValues="0.08 0.1 0.1 0.1 0.08"/><feFuncG type="table" tableValues="0.08 0.1 0.1 0.1 0.08"/><feFuncB type="table" tableValues="0.08 0.1 0.1 0.1 0.08"/></feComponentTransfer><feComposite in="m" in2="ng" operator="arithmetic" k1="1" k2="0" k3="0" k4="0" result="p"/><feComposite in="d" in2="m" operator="arithmetic" k1="0" k2="1" k3="-0.5" k4="0" result="t"/><feComposite in="t" in2="p" operator="arithmetic" k1="0" k2="1" k3="1" k4="0" result="f"/><feComponentTransfer in="f"><feFuncR type="table" tableValues="0 0 0 0 0 0 0 0 0 0 0 0 0 0 0 0 0 0.062 0.125 0.188 0.25 0.312 0.375 0.438 0.5 0.562 0.625 0.688 0.75 0.812 0.875 0.938 1 1 1 1 1 1 1 1 1 1 1 1 1 1 1 1 1 0.969 0.938 0.906 0.875 0.844 0.812 0.781 0.75 0.719 0.688 0.656 0.625 0.594 0.562 0.531 0.5"/><feFuncG type="table" tableValues="0 0 0 0 0 0 0 0 0 0 0 0 0 0 0 0 0 0.062 0.125 0.188 0.25 0.312 0.375 0.438 0.5 0.562 0.625 0.688 0.75 0.812 0.875 0.938 1 0.938 0.875 0.812 0.75 0.688 0.625 0.562 0.5 0.438 0.375 0.312 0.25 0.188 0.125 0.062 0 0 0 0 0 0 0 0 0 0 0 0 0 0 0 0 0"/><feFuncB type="table" tableValues="0.3 0.344 0.387 0.431 0.475 0.519 0.562 0.606 0.65 0.694 0.738 0.781 0.825 0.869 0.912 0.956 1 1 1 1 1 1 1 1 1 1 1 1 1 1 1 1 1 0.938 0.875 0.812 0.75 0.688 0.625 0.562 0.5 0.438 0.375 0.312 0.25 0.188 0.125 0.062 0 0 0 0 0 0 0 0 0 0 0 0 0 0 0 0 0"/></feComponentTransfer></filter><filter id="fIR4" filterUnits="userSpaceOnUse" x="-20" y="-20" width="340" height="340" color-interpolation-filters="sRGB"><feTurbulence type="fractalNoise" baseFrequency="0.035" numOctaves="3" seed="11" result="n"/><feDisplacementMap in="SourceGraphic" in2="n" scale="7" xChannelSelector="R" yChannelSelector="G" result="d"/><feColorMatrix in="n" type="matrix" values="0 0 1 0 0 0 0 1 0 0 0 0 1 0 0 0 0 0 0 1" result="ng"/><feComponentTransfer in="d" result="m"><feFuncR type="table" tableValues="0 0 0.03 0.08 0.1 0.12 0.14 0.14 0.12 0.08 0.05 0.05 0.05 0.05"/><feFuncG type="table" tableValues="0 0 0.03 0.08 0.1 0.12 0.14 0.14 0.12 0.08 0.05 0.05 0.05 0.05"/><feFuncB type="table" tableValues="0 0 0.03 0.08 0.1 0.12 0.14 0.14 0.12 0.08 0.05 0.05 0.05 0.05"/></feComponentTransfer><feComposite in="m" in2="ng" operator="arithmetic" k1="1" k2="0" k3="0" k4="0" result="p"/><feComposite in="d" in2="m" operator="arithmetic" k1="0" k2="1" k3="-0.5" k4="0" result="t"/><feComposite in="t" in2="p" operator="arithmetic" k1="0" k2="1" k3="1" k4="0" result="f"/><feComponentTransfer in="f"><feFuncR type="table" tableValues="0.5 0.55 0.6 0.65 0.7 0.75 0.8 0.85 0.9 0.95 1 0.9 0.8 0.7 0.6 0.5 0.4 0.3 0.2 0.1 0 0.067 0.133 0.2 0.267 0.333 0.4 0.467 0.533 0.6 0.667 0.733 0.8 0.867 0.933 1 1 1 1 1 1 1 1 1 1 1 1 1 1 1 1 0.933 0.867 0.8 0.733 0.667 0.6 0.533 0.467 0.4 0.333 0.267 0.2 0.133 0.067 0 0 0 0 0 0 0 0 0 0 0 0 0 0 0 0 0 0 0 0 0 0 0 0 0 0 0 0 0 0 0.972 0.944 0.917 0.889 0.861 0.833 0.806 0.778 0.75 0.722 0.694 0.667 0.639 0.611 0.583 0.556 0.528 0.5 0.472 0.444 0.417 0.389 0.361 0.333 0.306 0.278 0.25 0.222 0.194 0.167 0.139 0.111 0.083 0.056 0.028 0"/><feFuncG type="table" tableValues="0 0 0 0 0 0 0 0 0 0 0 0.9 0.8 0.7 0.6 0.5 0.4 0.3 0.2 0.1 0 0 0 0 0 0 0 0 0 0 0 0 0 0 0 0 0.067 0.133 0.2 0.267 0.333 0.4 0.467 0.533 0.6 0.667 0.733 0.8 0.867 0.933 1 1 1 1 1 1 1 1 1 1 1 1 1 1 1 1 0.933 0.867 0.8 0.733 0.667 0.6 0.533 0.467 0.4 0.333 0.267 0.2 0.133 0.067 0 0.071 0.143 0.214 0.286 0.357 0.429 0.5 0.571 0.643 0.714 0.786 0.857 0.929 1 0.972 0.944 0.917 0.889 0.861 0.833 0.806 0.778 0.75 0.722 0.694 0.667 0.639 0.611 0.583 0.556 0.528 0.5 0.472 0.444 0.417 0.389 0.361 0.333 0.306 0.278 0.25 0.222 0.194 0.167 0.139 0.111 0.083 0.056 0.028 0"/><feFuncB type="table" tableValues="0.5 0.55 0.6 0.65 0.7 0.75 0.8 0.85 0.9 0.95 1 0.9 0.8 0.7 0.6 0.5 0.4 0.3 0.2 0.1 0 0 0 0 0 0 0 0 0 0 0 0 0 0 0 0 0 0 0 0 0 0 0 0 0 0 0 0 0 0 0 0 0 0 0 0 0 0 0 0 0 0 0 0 0 0 0.067 0.133 0.2 0.267 0.333 0.4 0.467 0.533 0.6 0.667 0.733 0.8 0.867 0.933 1 1 1 1 1 1 1 1 1 1 1 1 1 1 1 0.972 0.944 0.917 0.889 0.861 0.833 0.806 0.778 0.75 0.722 0.694 0.667 0.639 0.611 0.583 0.556 0.528 0.5 0.472 0.444 0.417 0.389 0.361 0.333 0.306 0.278 0.25 0.222 0.194 0.167 0.139 0.111 0.083 0.056 0.028 0"/></feComponentTransfer></filter></defs>
<g transform="translate(1415.5 69.5)" clip-path="url(#c300)"><use href="#F1" filter="url(#fIR)"/></g>
<g transform="translate(1790.5 69.5)" clip-path="url(#c300)"><use href="#F1" filter="url(#fSE1)"/></g>
<g transform="translate(2165.5 69.5)" clip-path="url(#c300)"><rect width="300" height="300" fill="#fffdfd"/><g filter="url(#shA)" opacity=".55"><ellipse cx="89" cy="164" rx="50" ry="28" fill="#f1f1ff" transform="rotate(35 89 164)"/><ellipse cx="124" cy="187" rx="18" ry="12" fill="#dedeff" transform="rotate(30 124 187)"/><ellipse cx="248" cy="152" rx="22" ry="30" fill="#f4f4ff"/><ellipse cx="148" cy="239" rx="25" ry="25" fill="#fff1f1"/><ellipse cx="275" cy="226" rx="15" ry="25" fill="#fff3f3"/><ellipse cx="248" cy="281" rx="30" ry="12" fill="#fff1f1"/><ellipse cx="100" cy="50" rx="14" ry="20" fill="#fff4f4"/><ellipse cx="170" cy="45" rx="22" ry="14" fill="#fff5f5"/></g><g filter="url(#shB)" opacity=".8"><ellipse cx="109" cy="154" rx="2" ry="10" fill="#ffc4c4" transform="rotate(-30 109 154)"/><ellipse cx="181" cy="276" rx="3" ry="14" fill="#ffc4c4" transform="rotate(8 181 276)"/><ellipse cx="186" cy="264" rx="3" ry="4" fill="#f59090"/></g></g>
<g transform="translate(2565.5 69.5)" clip-path="url(#c4)"><use href="#F4" filter="url(#fIR4)"/></g>
<g transform="translate(2940.5 69.5)" clip-path="url(#c4)"><use href="#F5" filter="url(#fIR4)"/></g>
<g transform="translate(3315.5 69.5)" clip-path="url(#c4)"><use href="#F6" filter="url(#fSE6)"/></g>
<g transform="translate(3690.5 69.5)" clip-path="url(#c300)"><rect width="300" height="300" fill="#fffdfd"/><g filter="url(#shA)" opacity=".55"><ellipse cx="151" cy="149" rx="30" ry="12" fill="#ffeeee"/><ellipse cx="158" cy="128" rx="10" ry="8" fill="#b4b4ff"/><ellipse cx="14" cy="28" rx="10" ry="25" fill="#fff1f1"/><ellipse cx="40" cy="160" rx="20" ry="14" fill="#f2f2ff"/><ellipse cx="30" cy="250" rx="20" ry="10" fill="#fff0f0"/><ellipse cx="150" cy="270" rx="14" ry="10" fill="#fff3f3"/></g><g filter="url(#shB)" opacity=".8"><ellipse cx="170" cy="139.5" rx="6" ry="3" fill="#4444e2" transform="rotate(15 170 139.5)"/><ellipse cx="182" cy="125" rx="2" ry="8" fill="#d0d0ff"/><ellipse cx="42" cy="184" rx="4" ry="14" fill="#ffcaca" transform="rotate(-10 42 184)"/><ellipse cx="61.6" cy="201.6" rx="3" ry="10" fill="#d2d2ff" transform="rotate(10 61.6 201.6)"/><ellipse cx="15" cy="280" rx="6" ry="10" fill="#ffe4e4"/></g></g>
<g transform="translate(1415.5 444.5)" clip-path="url(#c300)"><use href="#F1" filter="url(#fIR)"/></g>
<g transform="translate(1790.5 444.5)" clip-path="url(#c300)"><use href="#F1" filter="url(#fSE1)"/></g>
<g transform="translate(2165.5 444.5)" clip-path="url(#c300)"><rect width="300" height="300" fill="#fffdfd"/><g filter="url(#shA)" opacity=".55"><ellipse cx="123" cy="41" rx="45" ry="33" fill="#fff0f0"/><ellipse cx="201" cy="150" rx="10" ry="45" fill="#fff0f0" transform="rotate(-12 201 150)"/><ellipse cx="98" cy="166" rx="25" ry="40" fill="#ebebff" transform="rotate(-10 98 166)"/><ellipse cx="136" cy="231" rx="35" ry="9" fill="#ffdddd" transform="rotate(-30 136 231)"/><ellipse cx="150" cy="270" rx="25" ry="14" fill="#fff0f0"/></g><g filter="url(#shB)" opacity=".8"><ellipse cx="250" cy="84" rx="30" ry="5" fill="#ffe4e4" transform="rotate(-8 250 84)"/><ellipse cx="152" cy="148" rx="7" ry="7" fill="#e4e4ff"/></g></g>
<g transform="translate(2565.5 444.5)" clip-path="url(#c4)"><use href="#F4" filter="url(#fIR4)"/></g>
<g transform="translate(2940.5 444.5)" clip-path="url(#c4)"><use href="#F5" filter="url(#fIR4)"/></g>
<g transform="translate(3315.5 444.5)" clip-path="url(#c4)"><use href="#F6" filter="url(#fSE6)"/></g>
<g transform="translate(3690.5 444.5)" clip-path="url(#c300)"><rect width="300" height="300" fill="#fffdfd"/><g filter="url(#shA)" opacity=".55"><ellipse cx="60" cy="175" rx="25" ry="12" fill="#fff3f3"/><ellipse cx="270" cy="40" rx="12" ry="14" fill="#f4f4ff"/></g><g filter="url(#shB)" opacity=".8"><ellipse cx="147" cy="101" rx="6" ry="12" fill="#e9e9ff"/><ellipse cx="152.6" cy="127" rx="8" ry="4" fill="#2424e0" transform="rotate(25 152.6 127)"/><ellipse cx="162" cy="133" rx="9" ry="3.5" fill="#3838e6" transform="rotate(30 162 133)"/><ellipse cx="169" cy="138" rx="6" ry="3" fill="#3030e4" transform="rotate(25 169 138)"/><ellipse cx="161" cy="115" rx="5" ry="1.5" fill="#ffa4a4"/><ellipse cx="18.6" cy="138.6" rx="5" ry="6" fill="#dadaff"/><ellipse cx="24.5" cy="255" rx="15" ry="3" fill="#ffdada" transform="rotate(5 24.5 255)"/><ellipse cx="180" cy="128" rx="3" ry="6" fill="#ffe0e0"/><ellipse cx="20" cy="30" rx="5" ry="8" fill="#ffe6e6"/></g></g>
<g transform="translate(1415.5 819.5)" clip-path="url(#c300)"><use href="#F1" filter="url(#fIR)"/></g>
<g transform="translate(1790.5 819.5)" clip-path="url(#c300)"><use href="#F1" filter="url(#fSE1)"/></g>
<g transform="translate(2165.5 819.5)" clip-path="url(#c300)"><rect width="300" height="300" fill="#fffdfd"/><g filter="url(#shA)" opacity=".55"><ellipse cx="120" cy="160" rx="8" ry="42" fill="#dcdcff" transform="rotate(-42 120 160)"/><ellipse cx="147" cy="39" rx="60" ry="35" fill="#fff2f2"/><ellipse cx="261" cy="170" rx="30" ry="22" fill="#f0f0ff"/><ellipse cx="130" cy="250" rx="35" ry="25" fill="#fdf3f5"/></g><g filter="url(#shB)" opacity=".8"><ellipse cx="131" cy="186" rx="12" ry="7" fill="#b8b8ff" transform="rotate(-30 131 186)"/><ellipse cx="165" cy="190" rx="3" ry="8" fill="#ffd0d0" transform="rotate(-40 165 190)"/></g></g>
<g transform="translate(2565.5 819.5)" clip-path="url(#c4)"><use href="#F4" filter="url(#fIR4)"/></g>
<g transform="translate(2940.5 819.5)" clip-path="url(#c4)"><use href="#F5" filter="url(#fIR4)"/></g>
<g transform="translate(3315.5 819.5)" clip-path="url(#c4)"><use href="#F6" filter="url(#fSE6)"/></g>
<g transform="translate(3690.5 819.5)" clip-path="url(#c300)"><rect width="300" height="300" fill="#fffdfd"/><g filter="url(#shA)" opacity=".55"><ellipse cx="45" cy="169" rx="12" ry="22" fill="#ffe5e5"/><ellipse cx="200" cy="105" rx="40" ry="18" fill="#fff1f1" transform="rotate(-10 200 105)"/><ellipse cx="13" cy="279.5" rx="10" ry="8" fill="#ffd9d9"/><ellipse cx="275" cy="40" rx="8" ry="30" fill="#f3f3ff"/><ellipse cx="150" cy="110" rx="14" ry="8" fill="#fff0f0"/></g><g filter="url(#shB)" opacity=".8"><ellipse cx="155.5" cy="128" rx="9" ry="6" fill="#4a4ae8" transform="rotate(15 155.5 128)"/><ellipse cx="169" cy="138.6" rx="5" ry="3" fill="#8484ff" transform="rotate(25 169 138.6)"/><ellipse cx="17.5" cy="134" rx="6" ry="14" fill="#cacaff"/><ellipse cx="184.6" cy="128" rx="5" ry="10" fill="#ffe2e2"/><ellipse cx="40" cy="265" rx="8" ry="5" fill="#ffdede"/><ellipse cx="80" cy="250" rx="12" ry="6" fill="#f0f0ff"/><ellipse cx="60" cy="25" rx="25" ry="6" fill="#f3f3ff"/></g></g>
<g transform="translate(1415.5 1194.5)" clip-path="url(#c300)"><use href="#F1" filter="url(#fIR)"/></g>
<g transform="translate(1790.5 1194.5)" clip-path="url(#c300)"><use href="#F1" filter="url(#fSE1)"/></g>
<g transform="translate(2165.5 1194.5)" clip-path="url(#c300)"><rect width="300" height="300" fill="#fffdfd"/><g filter="url(#shA)" opacity=".55"><ellipse cx="60" cy="133" rx="45" ry="50" fill="#e9e9ff"/><ellipse cx="152" cy="150" rx="11" ry="10" fill="#cbcbff"/><ellipse cx="131" cy="193" rx="25" ry="14" fill="#dcdcff" transform="rotate(-10 131 193)"/><ellipse cx="131" cy="95" rx="50" ry="40" fill="#ffeeee"/><ellipse cx="134" cy="242" rx="22" ry="12" fill="#ffc6c6" transform="rotate(-15 134 242)"/><ellipse cx="229" cy="166" rx="20" ry="40" fill="#ececff"/><ellipse cx="170" cy="210" rx="25" ry="10" fill="#ffe8e8" transform="rotate(-40 170 210)"/><ellipse cx="280" cy="80" rx="18" ry="12" fill="#ffeeee"/><ellipse cx="10" cy="20" rx="10" ry="14" fill="#fff0f0"/></g><g filter="url(#shB)" opacity=".8"><ellipse cx="139" cy="239" rx="3.5" ry="3" fill="#e03838"/><ellipse cx="136" cy="264" rx="3" ry="4" fill="#ea5050"/><ellipse cx="127" cy="255" rx="2.5" ry="3" fill="#ea5050"/><ellipse cx="185" cy="266" rx="3" ry="8" fill="#e84444" transform="rotate(5 185 266)"/><ellipse cx="180" cy="285" rx="2.5" ry="10" fill="#f08080" transform="rotate(5 180 285)"/><ellipse cx="196" cy="179" rx="7" ry="7" fill="#ffd0d0"/><ellipse cx="77" cy="100" rx="2" ry="4" fill="#f08080"/><ellipse cx="108" cy="157" rx="3" ry="5" fill="#f07070" transform="rotate(-30 108 157)"/><ellipse cx="235" cy="150" rx="2" ry="4" fill="#f08080"/></g></g>
<g transform="translate(2565.5 1194.5)" clip-path="url(#c4)"><use href="#F4" filter="url(#fIR4)"/></g>
<g transform="translate(2940.5 1194.5)" clip-path="url(#c4)"><use href="#F5" filter="url(#fIR4)"/></g>
<g transform="translate(3315.5 1194.5)" clip-path="url(#c4)"><use href="#F6" filter="url(#fSE6)"/></g>
<g transform="translate(3690.5 1194.5)" clip-path="url(#c300)"><rect width="300" height="300" fill="#fffdfd"/><g filter="url(#shA)" opacity=".55"><ellipse cx="168" cy="142" rx="30" ry="25" fill="#fff0f0"/><ellipse cx="184.6" cy="124" rx="12" ry="10" fill="#ffc4c4"/><ellipse cx="152.6" cy="103.6" rx="8" ry="8" fill="#e2e2ff"/><ellipse cx="173" cy="159" rx="15" ry="12" fill="#e9e9ff"/><ellipse cx="14" cy="130" rx="10" ry="13" fill="#ababff"/><ellipse cx="36" cy="176" rx="14" ry="10" fill="#ffe9e9"/><ellipse cx="85.6" cy="249" rx="14" ry="12" fill="#ffe9e9"/><ellipse cx="12.8" cy="275" rx="8" ry="12" fill="#ffe2e2"/><ellipse cx="42" cy="112" rx="14" ry="8" fill="#ededff"/></g><g filter="url(#shB)" opacity=".8"><ellipse cx="155.5" cy="128" rx="10" ry="7" fill="#1414d2" transform="rotate(20 155.5 128)"/><ellipse cx="167" cy="137.4" rx="5" ry="4" fill="#1c1cd6" transform="rotate(25 167 137.4)"/><ellipse cx="60.6" cy="205.6" rx="5" ry="9" fill="#c2c2ff"/><ellipse cx="4" cy="89" rx="4" ry="30" fill="#ffd9d9"/><ellipse cx="20" cy="25" rx="7" ry="8" fill="#ffe6e6"/><ellipse cx="8" cy="200" rx="6" ry="18" fill="#e6e6ff"/><ellipse cx="235" cy="265" rx="4" ry="5" fill="#ffe4e4"/></g></g>
<g transform="translate(1415.5 1569.5)" clip-path="url(#c300)"><use href="#F1" filter="url(#fIR)"/></g>
<g transform="translate(1790.5 1569.5)" clip-path="url(#c300)"><use href="#F1" filter="url(#fSE1)"/></g>
<g transform="translate(2165.5 1569.5)" clip-path="url(#c300)"><rect width="300" height="300" fill="#fffdfd"/><g filter="url(#shA)" opacity=".55"><ellipse cx="136" cy="72" rx="60" ry="50" fill="#fff1f1"/><ellipse cx="98" cy="153" rx="40" ry="40" fill="#f0f0ff"/><ellipse cx="152" cy="147" rx="8" ry="8" fill="#ddddff"/><ellipse cx="147" cy="224" rx="40" ry="14" fill="#ffd9d9" transform="rotate(-30 147 224)"/><ellipse cx="185" cy="200" rx="8" ry="40" fill="#ffeaea" transform="rotate(25 185 200)"/><ellipse cx="120" cy="190" rx="25" ry="8" fill="#e6e6ff" transform="rotate(35 120 190)"/><ellipse cx="125" cy="250" rx="20" ry="10" fill="#ffe4e4" transform="rotate(-20 125 250)"/></g><g filter="url(#shB)" opacity=".8"><ellipse cx="77" cy="102" rx="4" ry="14" fill="#f49090" transform="rotate(5 77 102)"/><ellipse cx="185" cy="265" rx="3" ry="8" fill="#f06868" transform="rotate(5 185 265)"/><ellipse cx="267" cy="99" rx="15" ry="4" fill="#ffb8b8" transform="rotate(10 267 99)"/></g></g>
<g transform="translate(2565.5 1569.5)" clip-path="url(#c4)"><use href="#F4" filter="url(#fIR4)"/></g>
<g transform="translate(2940.5 1569.5)" clip-path="url(#c4)"><use href="#F5" filter="url(#fIR4)"/></g>
<g transform="translate(3315.5 1569.5)" clip-path="url(#c4)"><use href="#F6" filter="url(#fSE6)"/></g>
<g transform="translate(3690.5 1569.5)" clip-path="url(#c300)"><rect width="300" height="300" fill="#fffdfd"/><g filter="url(#shA)" opacity=".55"><ellipse cx="165" cy="135" rx="28" ry="22" fill="#fff2f2"/><ellipse cx="24.5" cy="157" rx="10" ry="20" fill="#e6e6ff"/></g><g filter="url(#shB)" opacity=".8"><ellipse cx="152.6" cy="127" rx="9" ry="5" fill="#1414d2" transform="rotate(25 152.6 127)"/><ellipse cx="162" cy="133" rx="8" ry="4" fill="#1818d6" transform="rotate(30 162 133)"/><ellipse cx="169" cy="139" rx="7" ry="3.5" fill="#1c1cda" transform="rotate(20 169 139)"/><ellipse cx="161" cy="113.5" rx="6" ry="4" fill="#ffcaca"/><ellipse cx="180.5" cy="128" rx="2" ry="6" fill="#c2c2ff"/><ellipse cx="58" cy="207" rx="4" ry="8" fill="#d2d2ff"/><ellipse cx="21.5" cy="26" rx="5" ry="10" fill="#ffe9e9"/><ellipse cx="135" cy="150" rx="8" ry="6" fill="#ffe6e6"/><ellipse cx="30" cy="290" rx="8" ry="4" fill="#ffdada"/></g></g>
<rect x="1415.5" y="69.5" width="300" height="300" fill="none" stroke="#000" stroke-width="1.11"/>
<path d="M1410.10 69.50h5.4M1415.50 369.50v5.4M1410.10 144.50h5.4M1490.50 369.50v5.4M1410.10 219.50h5.4M1565.50 369.50v5.4M1410.10 294.50h5.4M1640.50 369.50v5.4M1410.10 369.50h5.4M1715.50 369.50v5.4" stroke="#000" stroke-width="1.11" fill="none"/>
<rect x="1790.5" y="69.5" width="300" height="300" fill="none" stroke="#000" stroke-width="1.11"/>
<path d="M1785.10 69.50h5.4M1790.50 369.50v5.4M1785.10 144.50h5.4M1865.50 369.50v5.4M1785.10 219.50h5.4M1940.50 369.50v5.4M1785.10 294.50h5.4M2015.50 369.50v5.4M1785.10 369.50h5.4M2090.50 369.50v5.4" stroke="#000" stroke-width="1.11" fill="none"/>
<rect x="2165.5" y="69.5" width="300" height="300" fill="none" stroke="#000" stroke-width="1.11"/>
<path d="M2160.10 69.50h5.4M2165.50 369.50v5.4M2160.10 144.50h5.4M2240.50 369.50v5.4M2160.10 219.50h5.4M2315.50 369.50v5.4M2160.10 294.50h5.4M2390.50 369.50v5.4M2160.10 369.50h5.4M2465.50 369.50v5.4" stroke="#000" stroke-width="1.11" fill="none"/>
<rect x="2565.5" y="69.5" width="300" height="300" fill="none" stroke="#000" stroke-width="1.11"/>
<path d="M2560.10 69.50h5.4M2565.50 369.50v5.4M2560.10 144.50h5.4M2640.50 369.50v5.4M2560.10 219.50h5.4M2715.50 369.50v5.4M2560.10 294.50h5.4M2790.50 369.50v5.4M2560.10 369.50h5.4M2865.50 369.50v5.4" stroke="#000" stroke-width="1.11" fill="none"/>
<rect x="2940.5" y="69.5" width="300" height="300" fill="none" stroke="#000" stroke-width="1.11"/>
<path d="M2935.10 69.50h5.4M2940.50 369.50v5.4M2935.10 144.50h5.4M3015.50 369.50v5.4M2935.10 219.50h5.4M3090.50 369.50v5.4M2935.10 294.50h5.4M3165.50 369.50v5.4M2935.10 369.50h5.4M3240.50 369.50v5.4" stroke="#000" stroke-width="1.11" fill="none"/>
<rect x="3315.5" y="69.5" width="300" height="300" fill="none" stroke="#000" stroke-width="1.11"/>
<path d="M3310.10 69.50h5.4M3315.50 369.50v5.4M3310.10 144.50h5.4M3390.50 369.50v5.4M3310.10 219.50h5.4M3465.50 369.50v5.4M3310.10 294.50h5.4M3540.50 369.50v5.4M3310.10 369.50h5.4M3615.50 369.50v5.4" stroke="#000" stroke-width="1.11" fill="none"/>
<rect x="3690.5" y="69.5" width="300" height="300" fill="none" stroke="#000" stroke-width="1.11"/>
<path d="M3685.10 69.50h5.4M3690.50 369.50v5.4M3685.10 144.50h5.4M3765.50 369.50v5.4M3685.10 219.50h5.4M3840.50 369.50v5.4M3685.10 294.50h5.4M3915.50 369.50v5.4M3685.10 369.50h5.4M3990.50 369.50v5.4" stroke="#000" stroke-width="1.11" fill="none"/>
<rect x="1415.5" y="444.5" width="300" height="300" fill="none" stroke="#000" stroke-width="1.11"/>
<path d="M1410.10 444.50h5.4M1415.50 744.50v5.4M1410.10 519.50h5.4M1490.50 744.50v5.4M1410.10 594.50h5.4M1565.50 744.50v5.4M1410.10 669.50h5.4M1640.50 744.50v5.4M1410.10 744.50h5.4M1715.50 744.50v5.4" stroke="#000" stroke-width="1.11" fill="none"/>
<rect x="1790.5" y="444.5" width="300" height="300" fill="none" stroke="#000" stroke-width="1.11"/>
<path d="M1785.10 444.50h5.4M1790.50 744.50v5.4M1785.10 519.50h5.4M1865.50 744.50v5.4M1785.10 594.50h5.4M1940.50 744.50v5.4M1785.10 669.50h5.4M2015.50 744.50v5.4M1785.10 744.50h5.4M2090.50 744.50v5.4" stroke="#000" stroke-width="1.11" fill="none"/>
<rect x="2165.5" y="444.5" width="300" height="300" fill="none" stroke="#000" stroke-width="1.11"/>
<path d="M2160.10 444.50h5.4M2165.50 744.50v5.4M2160.10 519.50h5.4M2240.50 744.50v5.4M2160.10 594.50h5.4M2315.50 744.50v5.4M2160.10 669.50h5.4M2390.50 744.50v5.4M2160.10 744.50h5.4M2465.50 744.50v5.4" stroke="#000" stroke-width="1.11" fill="none"/>
<rect x="2565.5" y="444.5" width="300" height="300" fill="none" stroke="#000" stroke-width="1.11"/>
<path d="M2560.10 444.50h5.4M2565.50 744.50v5.4M2560.10 519.50h5.4M2640.50 744.50v5.4M2560.10 594.50h5.4M2715.50 744.50v5.4M2560.10 669.50h5.4M2790.50 744.50v5.4M2560.10 744.50h5.4M2865.50 744.50v5.4" stroke="#000" stroke-width="1.11" fill="none"/>
<rect x="2940.5" y="444.5" width="300" height="300" fill="none" stroke="#000" stroke-width="1.11"/>
<path d="M2935.10 444.50h5.4M2940.50 744.50v5.4M2935.10 519.50h5.4M3015.50 744.50v5.4M2935.10 594.50h5.4M3090.50 744.50v5.4M2935.10 669.50h5.4M3165.50 744.50v5.4M2935.10 744.50h5.4M3240.50 744.50v5.4" stroke="#000" stroke-width="1.11" fill="none"/>
<rect x="3315.5" y="444.5" width="300" height="300" fill="none" stroke="#000" stroke-width="1.11"/>
<path d="M3310.10 444.50h5.4M3315.50 744.50v5.4M3310.10 519.50h5.4M3390.50 744.50v5.4M3310.10 594.50h5.4M3465.50 744.50v5.4M3310.10 669.50h5.4M3540.50 744.50v5.4M3310.10 744.50h5.4M3615.50 744.50v5.4" stroke="#000" stroke-width="1.11" fill="none"/>
<rect x="3690.5" y="444.5" width="300" height="300" fill="none" stroke="#000" stroke-width="1.11"/>
<path d="M3685.10 444.50h5.4M3690.50 744.50v5.4M3685.10 519.50h5.4M3765.50 744.50v5.4M3685.10 594.50h5.4M3840.50 744.50v5.4M3685.10 669.50h5.4M3915.50 744.50v5.4M3685.10 744.50h5.4M3990.50 744.50v5.4" stroke="#000" stroke-width="1.11" fill="none"/>
<rect x="1415.5" y="819.5" width="300" height="300" fill="none" stroke="#000" stroke-width="1.11"/>
<path d="M1410.10 819.50h5.4M1415.50 1119.50v5.4M1410.10 894.50h5.4M1490.50 1119.50v5.4M1410.10 969.50h5.4M1565.50 1119.50v5.4M1410.10 1044.50h5.4M1640.50 1119.50v5.4M1410.10 1119.50h5.4M1715.50 1119.50v5.4" stroke="#000" stroke-width="1.11" fill="none"/>
<rect x="1790.5" y="819.5" width="300" height="300" fill="none" stroke="#000" stroke-width="1.11"/>
<path d="M1785.10 819.50h5.4M1790.50 1119.50v5.4M1785.10 894.50h5.4M1865.50 1119.50v5.4M1785.10 969.50h5.4M1940.50 1119.50v5.4M1785.10 1044.50h5.4M2015.50 1119.50v5.4M1785.10 1119.50h5.4M2090.50 1119.50v5.4" stroke="#000" stroke-width="1.11" fill="none"/>
<rect x="2165.5" y="819.5" width="300" height="300" fill="none" stroke="#000" stroke-width="1.11"/>
<path d="M2160.10 819.50h5.4M2165.50 1119.50v5.4M2160.10 894.50h5.4M2240.50 1119.50v5.4M2160.10 969.50h5.4M2315.50 1119.50v5.4M2160.10 1044.50h5.4M2390.50 1119.50v5.4M2160.10 1119.50h5.4M2465.50 1119.50v5.4" stroke="#000" stroke-width="1.11" fill="none"/>
<rect x="2565.5" y="819.5" width="300" height="300" fill="none" stroke="#000" stroke-width="1.11"/>
<path d="M2560.10 819.50h5.4M2565.50 1119.50v5.4M2560.10 894.50h5.4M2640.50 1119.50v5.4M2560.10 969.50h5.4M2715.50 1119.50v5.4M2560.10 1044.50h5.4M2790.50 1119.50v5.4M2560.10 1119.50h5.4M2865.50 1119.50v5.4" stroke="#000" stroke-width="1.11" fill="none"/>
<rect x="2940.5" y="819.5" width="300" height="300" fill="none" stroke="#000" stroke-width="1.11"/>
<path d="M2935.10 819.50h5.4M2940.50 1119.50v5.4M2935.10 894.50h5.4M3015.50 1119.50v5.4M2935.10 969.50h5.4M3090.50 1119.50v5.4M2935.10 1044.50h5.4M3165.50 1119.50v5.4M2935.10 1119.50h5.4M3240.50 1119.50v5.4" stroke="#000" stroke-width="1.11" fill="none"/>
<rect x="3315.5" y="819.5" width="300" height="300" fill="none" stroke="#000" stroke-width="1.11"/>
<path d="M3310.10 819.50h5.4M3315.50 1119.50v5.4M3310.10 894.50h5.4M3390.50 1119.50v5.4M3310.10 969.50h5.4M3465.50 1119.50v5.4M3310.10 1044.50h5.4M3540.50 1119.50v5.4M3310.10 1119.50h5.4M3615.50 1119.50v5.4" stroke="#000" stroke-width="1.11" fill="none"/>
<rect x="3690.5" y="819.5" width="300" height="300" fill="none" stroke="#000" stroke-width="1.11"/>
<path d="M3685.10 819.50h5.4M3690.50 1119.50v5.4M3685.10 894.50h5.4M3765.50 1119.50v5.4M3685.10 969.50h5.4M3840.50 1119.50v5.4M3685.10 1044.50h5.4M3915.50 1119.50v5.4M3685.10 1119.50h5.4M3990.50 1119.50v5.4" stroke="#000" stroke-width="1.11" fill="none"/>
<rect x="1415.5" y="1194.5" width="300" height="300" fill="none" stroke="#000" stroke-width="1.11"/>
<path d="M1410.10 1194.50h5.4M1415.50 1494.50v5.4M1410.10 1269.50h5.4M1490.50 1494.50v5.4M1410.10 1344.50h5.4M1565.50 1494.50v5.4M1410.10 1419.50h5.4M1640.50 1494.50v5.4M1410.10 1494.50h5.4M1715.50 1494.50v5.4" stroke="#000" stroke-width="1.11" fill="none"/>
<rect x="1790.5" y="1194.5" width="300" height="300" fill="none" stroke="#000" stroke-width="1.11"/>
<path d="M1785.10 1194.50h5.4M1790.50 1494.50v5.4M1785.10 1269.50h5.4M1865.50 1494.50v5.4M1785.10 1344.50h5.4M1940.50 1494.50v5.4M1785.10 1419.50h5.4M2015.50 1494.50v5.4M1785.10 1494.50h5.4M2090.50 1494.50v5.4" stroke="#000" stroke-width="1.11" fill="none"/>
<rect x="2165.5" y="1194.5" width="300" height="300" fill="none" stroke="#000" stroke-width="1.11"/>
<path d="M2160.10 1194.50h5.4M2165.50 1494.50v5.4M2160.10 1269.50h5.4M2240.50 1494.50v5.4M2160.10 1344.50h5.4M2315.50 1494.50v5.4M2160.10 1419.50h5.4M2390.50 1494.50v5.4M2160.10 1494.50h5.4M2465.50 1494.50v5.4" stroke="#000" stroke-width="1.11" fill="none"/>
<rect x="2565.5" y="1194.5" width="300" height="300" fill="none" stroke="#000" stroke-width="1.11"/>
<path d="M2560.10 1194.50h5.4M2565.50 1494.50v5.4M2560.10 1269.50h5.4M2640.50 1494.50v5.4M2560.10 1344.50h5.4M2715.50 1494.50v5.4M2560.10 1419.50h5.4M2790.50 1494.50v5.4M2560.10 1494.50h5.4M2865.50 1494.50v5.4" stroke="#000" stroke-width="1.11" fill="none"/>
<rect x="2940.5" y="1194.5" width="300" height="300" fill="none" stroke="#000" stroke-width="1.11"/>
<path d="M2935.10 1194.50h5.4M2940.50 1494.50v5.4M2935.10 1269.50h5.4M3015.50 1494.50v5.4M2935.10 1344.50h5.4M3090.50 1494.50v5.4M2935.10 1419.50h5.4M3165.50 1494.50v5.4M2935.10 1494.50h5.4M3240.50 1494.50v5.4" stroke="#000" stroke-width="1.11" fill="none"/>
<rect x="3315.5" y="1194.5" width="300" height="300" fill="none" stroke="#000" stroke-width="1.11"/>
<path d="M3310.10 1194.50h5.4M3315.50 1494.50v5.4M3310.10 1269.50h5.4M3390.50 1494.50v5.4M3310.10 1344.50h5.4M3465.50 1494.50v5.4M3310.10 1419.50h5.4M3540.50 1494.50v5.4M3310.10 1494.50h5.4M3615.50 1494.50v5.4" stroke="#000" stroke-width="1.11" fill="none"/>
<rect x="3690.5" y="1194.5" width="300" height="300" fill="none" stroke="#000" stroke-width="1.11"/>
<path d="M3685.10 1194.50h5.4M3690.50 1494.50v5.4M3685.10 1269.50h5.4M3765.50 1494.50v5.4M3685.10 1344.50h5.4M3840.50 1494.50v5.4M3685.10 1419.50h5.4M3915.50 1494.50v5.4M3685.10 1494.50h5.4M3990.50 1494.50v5.4" stroke="#000" stroke-width="1.11" fill="none"/>
<rect x="1415.5" y="1569.5" width="300" height="300" fill="none" stroke="#000" stroke-width="1.11"/>
<path d="M1410.10 1569.50h5.4M1415.50 1869.50v5.4M1410.10 1644.50h5.4M1490.50 1869.50v5.4M1410.10 1719.50h5.4M1565.50 1869.50v5.4M1410.10 1794.50h5.4M1640.50 1869.50v5.4M1410.10 1869.50h5.4M1715.50 1869.50v5.4" stroke="#000" stroke-width="1.11" fill="none"/>
<rect x="1790.5" y="1569.5" width="300" height="300" fill="none" stroke="#000" stroke-width="1.11"/>
<path d="M1785.10 1569.50h5.4M1790.50 1869.50v5.4M1785.10 1644.50h5.4M1865.50 1869.50v5.4M1785.10 1719.50h5.4M1940.50 1869.50v5.4M1785.10 1794.50h5.4M2015.50 1869.50v5.4M1785.10 1869.50h5.4M2090.50 1869.50v5.4" stroke="#000" stroke-width="1.11" fill="none"/>
<rect x="2165.5" y="1569.5" width="300" height="300" fill="none" stroke="#000" stroke-width="1.11"/>
<path d="M2160.10 1569.50h5.4M2165.50 1869.50v5.4M2160.10 1644.50h5.4M2240.50 1869.50v5.4M2160.10 1719.50h5.4M2315.50 1869.50v5.4M2160.10 1794.50h5.4M2390.50 1869.50v5.4M2160.10 1869.50h5.4M2465.50 1869.50v5.4" stroke="#000" stroke-width="1.11" fill="none"/>
<rect x="2565.5" y="1569.5" width="300" height="300" fill="none" stroke="#000" stroke-width="1.11"/>
<path d="M2560.10 1569.50h5.4M2565.50 1869.50v5.4M2560.10 1644.50h5.4M2640.50 1869.50v5.4M2560.10 1719.50h5.4M2715.50 1869.50v5.4M2560.10 1794.50h5.4M2790.50 1869.50v5.4M2560.10 1869.50h5.4M2865.50 1869.50v5.4" stroke="#000" stroke-width="1.11" fill="none"/>
<rect x="2940.5" y="1569.5" width="300" height="300" fill="none" stroke="#000" stroke-width="1.11"/>
<path d="M2935.10 1569.50h5.4M2940.50 1869.50v5.4M2935.10 1644.50h5.4M3015.50 1869.50v5.4M2935.10 1719.50h5.4M3090.50 1869.50v5.4M2935.10 1794.50h5.4M3165.50 1869.50v5.4M2935.10 1869.50h5.4M3240.50 1869.50v5.4" stroke="#000" stroke-width="1.11" fill="none"/>
<rect x="3315.5" y="1569.5" width="300" height="300" fill="none" stroke="#000" stroke-width="1.11"/>
<path d="M3310.10 1569.50h5.4M3315.50 1869.50v5.4M3310.10 1644.50h5.4M3390.50 1869.50v5.4M3310.10 1719.50h5.4M3465.50 1869.50v5.4M3310.10 1794.50h5.4M3540.50 1869.50v5.4M3310.10 1869.50h5.4M3615.50 1869.50v5.4" stroke="#000" stroke-width="1.11" fill="none"/>
<rect x="3690.5" y="1569.5" width="300" height="300" fill="none" stroke="#000" stroke-width="1.11"/>
<path d="M3685.10 1569.50h5.4M3690.50 1869.50v5.4M3685.10 1644.50h5.4M3765.50 1869.50v5.4M3685.10 1719.50h5.4M3840.50 1869.50v5.4M3685.10 1794.50h5.4M3915.50 1869.50v5.4M3685.10 1869.50h5.4M3990.50 1869.50v5.4" stroke="#000" stroke-width="1.11" fill="none"/>
<rect x="1415.5" y="1944.4" width="300" height="25" fill="url(#gIR)" stroke="#000" stroke-width="1.11"/>
<path d="M1415.50 1969.4v5.4M1461.65 1969.4v5.4M1507.81 1969.4v5.4M1553.96 1969.4v5.4M1600.12 1969.4v5.4M1646.27 1969.4v5.4M1692.42 1969.4v5.4" stroke="#000" stroke-width="1.11" fill="none"/>
<rect x="1790.5" y="1944.4" width="300" height="25" fill="url(#gSE)" stroke="#000" stroke-width="1.11"/>
<path d="M1790.50 1969.4v5.4M1865.50 1969.4v5.4M1940.50 1969.4v5.4M2015.50 1969.4v5.4M2090.50 1969.4v5.4" stroke="#000" stroke-width="1.11" fill="none"/>
<rect x="2165.5" y="1944.4" width="300" height="25" fill="url(#gSE)" stroke="#000" stroke-width="1.11"/>
<path d="M2165.50 1969.4v5.4M2240.50 1969.4v5.4M2315.50 1969.4v5.4M2390.50 1969.4v5.4M2465.50 1969.4v5.4" stroke="#000" stroke-width="1.11" fill="none"/>
<rect x="2565.5" y="1944.4" width="675" height="25" fill="url(#gIR)" stroke="#000" stroke-width="1.11"/>
<path d="M2565.50 1969.4v5.4M2669.35 1969.4v5.4M2773.19 1969.4v5.4M2877.04 1969.4v5.4M2980.88 1969.4v5.4M3084.73 1969.4v5.4M3188.58 1969.4v5.4" stroke="#000" stroke-width="1.11" fill="none"/>
<rect x="3315.5" y="1944.4" width="300" height="25" fill="url(#gSE)" stroke="#000" stroke-width="1.11"/>
<path d="M3326.15 1969.4v5.4M3372.60 1969.4v5.4M3419.05 1969.4v5.4M3465.50 1969.4v5.4M3511.95 1969.4v5.4M3558.40 1969.4v5.4M3604.85 1969.4v5.4" stroke="#000" stroke-width="1.11" fill="none"/>
<rect x="3690.5" y="1944.4" width="300" height="25" fill="url(#gSE)" stroke="#000" stroke-width="1.11"/>
<path d="M3724.90 1969.4v5.4M3782.70 1969.4v5.4M3840.50 1969.4v5.4M3898.30 1969.4v5.4M3956.10 1969.4v5.4" stroke="#000" stroke-width="1.11" fill="none"/>
</svg>
<div class="t" style="left:58.24px;top:120.00px;font-size:17.50px;transform-origin:100% 50%;transform:scaleX(0.9266)">ENSS</div>
<div class="t" style="left:56.31px;top:194.00px;font-size:17.50px;transform-origin:100% 50%;transform:scaleX(0.9596)">SHDC</div>
<div class="t" style="left:56.31px;top:268.00px;font-size:17.50px;transform-origin:100% 50%;transform:scaleX(0.9584)">SHRD</div>
<div class="t" style="left:61.16px;top:343.00px;font-size:17.50px;transform-origin:100% 50%;transform:scaleX(1.0210)">CD26</div>
<div class="t" style="left:61.48px;top:417.00px;font-size:17.50px;transform-origin:100% 50%;transform:scaleX(0.9505)">DELV</div>
<div class="t" style="left:40.08px;top:484.00px;font-size:17.50px;transform-origin:100% 50%;transform:scaleX(1.0691)">3h-IRdiff</div>
<div class="t" style="left:32.93px;top:501.00px;font-size:17.50px;transform-origin:100% 50%;transform:scaleX(1.0647)">3degrees</div>
<div class="t" style="left:61.16px;top:565.00px;font-size:17.50px;transform-origin:100% 50%;transform:scaleX(1.0210)">CD20</div>
<div class="t" style="left:57.28px;top:639.00px;font-size:17.50px;transform-origin:100% 50%;transform:scaleX(0.9311)">SHRS</div>
<div class="t" style="left:61.16px;top:714.00px;font-size:17.50px;transform-origin:100% 50%;transform:scaleX(1.0068)">U20C</div>
<div class="t" style="left:75.10px;top:788.00px;font-size:17.50px;transform-origin:100% 50%;transform:scaleX(0.9727)">LAT</div>
<div class="t" style="left:56.30px;top:862.00px;font-size:17.50px;transform-origin:100% 50%;transform:scaleX(0.9799)">VMAX</div>
<div class="t" style="left:88.40px;top:936.00px;font-size:17.50px;transform-origin:100% 50%;transform:scaleX(0.9426)">IR</div>
<div class="t" style="left:69.93px;top:1011.00px;font-size:17.50px;transform-origin:100% 50%;transform:scaleX(0.9270)">POT</div>
<div class="t" style="left:62.12px;top:1085.00px;font-size:17.50px;transform-origin:100% 50%;transform:scaleX(1.0108)">V20C</div>
<div class="t" style="left:58.24px;top:1159.00px;font-size:17.50px;transform-origin:100% 50%;transform:scaleX(0.9295)">MSLP</div>
<div class="t" style="left:59.23px;top:1233.00px;font-size:17.50px;transform-origin:100% 50%;transform:scaleX(0.9196)">RSST</div>
<div class="t" style="left:64.06px;top:1308.00px;font-size:17.50px;transform-origin:100% 50%;transform:scaleX(1.0520)">U200</div>
<div class="t" style="left:65.03px;top:1382.00px;font-size:17.50px;transform-origin:100% 50%;transform:scaleX(1.0573)">V300</div>
<div class="t" style="left:63.12px;top:1456.00px;font-size:17.50px;transform-origin:100% 50%;transform:scaleX(0.9716)">RHHI</div>
<div class="t" style="left:72.84px;top:1530.00px;font-size:17.50px;transform-origin:100% 50%;transform:scaleX(0.9770)">DTL</div>
<div class="t" style="left:65.03px;top:1605.00px;font-size:17.50px;transform-origin:100% 50%;transform:scaleX(1.0573)">V500</div>
<div class="t" style="left:65.03px;top:1679.00px;font-size:17.50px;transform-origin:100% 50%;transform:scaleX(1.0573)">V850</div>
<div class="t" style="left:925.30px;top:112.00px;font-size:17.50px;transform-origin:0 50%;transform:scaleX(1.0947)">Avg. Δ <i>θ</i><span class="sb">e</span> (only negative) between parcel lifted</div>
<div class="t" style="left:925.30px;top:133.00px;font-size:17.50px;transform-origin:0 50%;transform:scaleX(1.0960)">from sfc. and saturated <i>θ</i><span class="sb">e</span> of env. (200-800 km)</div>
<div class="t" style="left:925.30px;top:187.00px;font-size:17.50px;transform-origin:0 50%;transform:scaleX(1.0681)">850-200hPa shear with</div>
<div class="t" style="left:925.30px;top:205.00px;font-size:17.50px;transform-origin:0 50%;transform:scaleX(1.0966)">vortex removed (0-500 km)</div>
<div class="t" style="left:925.30px;top:269.00px;font-size:17.50px;transform-origin:0 50%;transform:scaleX(1.0703)">850-200hPa shear (200-800 km)</div>
<div class="t" style="left:925.30px;top:344.00px;font-size:17.50px;transform-origin:0 50%;transform:scaleX(1.0879)">Climatological depth of 26° C isotherm</div>
<div class="t" style="left:925.30px;top:418.00px;font-size:17.50px;transform-origin:0 50%;transform:scaleX(1.0930)">-12h to 0h Intensity change</div>
<div class="t" style="left:925.30px;top:492.00px;font-size:17.50px;transform-origin:0 50%;transform:scaleX(1.0767)">3h IR difference (3 deg.)</div>
<div class="t" style="left:925.30px;top:566.00px;font-size:17.50px;transform-origin:0 50%;transform:scaleX(1.0879)">Climatological depth of 20° C isotherm</div>
<div class="t" style="left:925.30px;top:640.00px;font-size:17.50px;transform-origin:0 50%;transform:scaleX(1.0703)">850-500hPa shear (200-800 km)</div>
<div class="t" style="left:925.30px;top:715.00px;font-size:17.50px;transform-origin:0 50%;transform:scaleX(1.0708)">200hPa zonal wind (0-500 km)</div>
<div class="t" style="left:925.30px;top:789.00px;font-size:17.50px;transform-origin:0 50%;transform:scaleX(1.1015)">Latitude</div>
<div class="t" style="left:925.30px;top:863.00px;font-size:17.50px;transform-origin:0 50%;transform:scaleX(1.0725)">Maximum Wind</div>
<div class="t" style="left:925.30px;top:937.00px;font-size:17.50px;transform-origin:0 50%;transform:scaleX(1.0900)">4km IR data (400x400 grid points)</div>
<div class="t" style="left:925.30px;top:1012.00px;font-size:17.50px;transform-origin:0 50%;transform:scaleX(1.0960)">Difference between current and max intensity</div>
<div class="t" style="left:925.30px;top:1086.00px;font-size:17.50px;transform-origin:0 50%;transform:scaleX(1.0809)">200hPa meridional wind (0-500 km)</div>
<div class="t" style="left:925.30px;top:1160.00px;font-size:17.50px;transform-origin:0 50%;transform:scaleX(1.0305)">Mean Sea Level Pressure</div>
<div class="t" style="left:925.30px;top:1234.00px;font-size:17.50px;transform-origin:0 50%;transform:scaleX(1.0035)">Reynolds SST</div>
<div class="t" style="left:925.30px;top:1309.00px;font-size:17.50px;transform-origin:0 50%;transform:scaleX(1.0722)">200hPa zonal wind (200-800 km)</div>
<div class="t" style="left:925.30px;top:1375.00px;font-size:17.50px;transform-origin:0 50%;transform:scaleX(1.0889)">300hPa tangential wind azimuthally</div>
<div class="t" style="left:925.30px;top:1393.00px;font-size:17.50px;transform-origin:0 50%;transform:scaleX(1.0935)">averaged at 500 km</div>
<div class="t" style="left:925.30px;top:1457.00px;font-size:17.50px;transform-origin:0 50%;transform:scaleX(1.0903)">500-300hPa relative humidity (200-800 km)</div>
<div class="t" style="left:925.30px;top:1531.00px;font-size:17.50px;transform-origin:0 50%;transform:scaleX(1.0724)">Distance to Land</div>
<div class="t" style="left:925.30px;top:1598.00px;font-size:17.50px;transform-origin:0 50%;transform:scaleX(1.0889)">500hPa tangential wind azimuthally</div>
<div class="t" style="left:925.30px;top:1615.00px;font-size:17.50px;transform-origin:0 50%;transform:scaleX(1.0935)">averaged at 500 km</div>
<div class="t" style="left:925.30px;top:1672.00px;font-size:17.50px;transform-origin:0 50%;transform:scaleX(1.0889)">850hPa tangential wind azimuthally</div>
<div class="t" style="left:925.30px;top:1690.00px;font-size:17.50px;transform-origin:0 50%;transform:scaleX(1.0935)">averaged at 500 km</div>
<div class="t" style="left:150.29px;top:1773.00px;font-size:16.04px;transform-origin:50% 50%;transform:scaleX(1.1536)">−0.04</div>
<div class="t" style="left:311.62px;top:1773.00px;font-size:16.04px;transform-origin:50% 50%;transform:scaleX(1.1536)">−0.03</div>
<div class="t" style="left:472.95px;top:1773.00px;font-size:16.04px;transform-origin:50% 50%;transform:scaleX(1.1536)">−0.02</div>
<div class="t" style="left:634.28px;top:1773.00px;font-size:16.04px;transform-origin:50% 50%;transform:scaleX(1.1536)">−0.01</div>
<div class="t" style="left:800.29px;top:1773.00px;font-size:16.04px;transform-origin:50% 50%;transform:scaleX(1.0896)">0.00</div>
<div class="t" style="left:459.69px;top:1793.00px;font-size:20.42px;transform-origin:50% 50%;transform:scaleX(0.9995)">SHAP Value</div>
<div class="t" style="left:271.56px;top:11.00px;font-size:27.71px;transform-origin:50% 50%;transform:scaleX(1.0698)">Shap values for 45kt RI in 36h for Neoguri at 20250928 18UTC</div>
<div class="t" style="left:624.62px;top:1834.00px;font-size:20.42px;transform-origin:50% 50%;transform:scaleX(1.0497)">Feature Value</div>
<div class="t" style="left:83.01px;top:1919.00px;font-size:18.96px;transform-origin:50% 50%;transform:scaleX(1.0222)">Low</div>
<div class="t" style="left:1256.10px;top:1919.00px;font-size:18.96px;transform-origin:50% 50%;transform:scaleX(1.0642)">High</div>
<div class="t" style="left:99.60px;top:1950.00px;font-size:18.96px;transform-origin:0 50%;transform:scaleX(1.0808)">SHAP Value: Amount each feature [listed on Y-axis] contributes to the probability of RI</div>
<div class="t" style="left:99.60px;top:1980.00px;font-size:18.96px;transform-origin:0 50%;transform:scaleX(1.0851)">Feature Value: The value of the feature [listed on Y-axis] for the given TC compared to the training dataset</div>
<div class="t" style="left:1381.37px;top:63.00px;font-size:14.58px;transform-origin:100% 50%;transform:scaleX(1.0898)">800</div>
<div class="t" style="left:1403.34px;top:379.00px;font-size:14.58px;transform-origin:50% 50%;transform:scaleX(1.0898)">800</div>
<div class="t" style="left:1381.37px;top:138.00px;font-size:14.58px;transform-origin:100% 50%;transform:scaleX(1.0898)">400</div>
<div class="t" style="left:1478.34px;top:379.00px;font-size:14.58px;transform-origin:50% 50%;transform:scaleX(1.0898)">400</div>
<div class="t" style="left:1397.59px;top:213.00px;font-size:14.58px;transform-origin:100% 50%;transform:scaleX(1.0898)">0</div>
<div class="t" style="left:1561.45px;top:379.00px;font-size:14.58px;transform-origin:50% 50%;transform:scaleX(1.0898)">0</div>
<div class="t" style="left:1381.37px;top:288.00px;font-size:14.58px;transform-origin:100% 50%;transform:scaleX(1.0898)">400</div>
<div class="t" style="left:1628.34px;top:379.00px;font-size:14.58px;transform-origin:50% 50%;transform:scaleX(1.0898)">400</div>
<div class="t" style="left:1381.37px;top:363.00px;font-size:14.58px;transform-origin:100% 50%;transform:scaleX(1.0898)">800</div>
<div class="t" style="left:1703.34px;top:379.00px;font-size:14.58px;transform-origin:50% 50%;transform:scaleX(1.0898)">800</div>
<div class="t" style="left:1554.78px;top:398.00px;font-size:14.58px;transform-origin:50% 50%;transform:scaleX(1.1100)">km</div>
<div class="t" style="left:1360.08px;top:211.00px;font-size:14.58px;transform-origin:9.72px 11.70px;transform:rotate(-90deg) scaleX(1.1100)">km</div>
<div class="t" style="left:1530.89px;top:46.00px;font-size:20.42px;transform-origin:50% 50%;transform:scaleX(1.0379)">IR Data</div>
<div class="t" style="left:1756.37px;top:63.00px;font-size:14.58px;transform-origin:100% 50%;transform:scaleX(1.0898)">800</div>
<div class="t" style="left:1778.34px;top:379.00px;font-size:14.58px;transform-origin:50% 50%;transform:scaleX(1.0898)">800</div>
<div class="t" style="left:1756.37px;top:138.00px;font-size:14.58px;transform-origin:100% 50%;transform:scaleX(1.0898)">400</div>
<div class="t" style="left:1853.34px;top:379.00px;font-size:14.58px;transform-origin:50% 50%;transform:scaleX(1.0898)">400</div>
<div class="t" style="left:1772.59px;top:213.00px;font-size:14.58px;transform-origin:100% 50%;transform:scaleX(1.0898)">0</div>
<div class="t" style="left:1936.45px;top:379.00px;font-size:14.58px;transform-origin:50% 50%;transform:scaleX(1.0898)">0</div>
<div class="t" style="left:1756.37px;top:288.00px;font-size:14.58px;transform-origin:100% 50%;transform:scaleX(1.0898)">400</div>
<div class="t" style="left:2003.34px;top:379.00px;font-size:14.58px;transform-origin:50% 50%;transform:scaleX(1.0898)">400</div>
<div class="t" style="left:1756.37px;top:363.00px;font-size:14.58px;transform-origin:100% 50%;transform:scaleX(1.0898)">800</div>
<div class="t" style="left:2078.34px;top:379.00px;font-size:14.58px;transform-origin:50% 50%;transform:scaleX(1.0898)">800</div>
<div class="t" style="left:1929.78px;top:398.00px;font-size:14.58px;transform-origin:50% 50%;transform:scaleX(1.1100)">km</div>
<div class="t" style="left:1735.08px;top:211.00px;font-size:14.58px;transform-origin:9.72px 11.70px;transform:rotate(-90deg) scaleX(1.1100)">km</div>
<div class="t" style="left:1851.42px;top:46.00px;font-size:20.42px;transform-origin:50% 50%;transform:scaleX(1.0569)">Normalized IR Data</div>
<div class="t" style="left:2131.37px;top:63.00px;font-size:14.58px;transform-origin:100% 50%;transform:scaleX(1.0898)">800</div>
<div class="t" style="left:2153.34px;top:379.00px;font-size:14.58px;transform-origin:50% 50%;transform:scaleX(1.0898)">800</div>
<div class="t" style="left:2131.37px;top:138.00px;font-size:14.58px;transform-origin:100% 50%;transform:scaleX(1.0898)">400</div>
<div class="t" style="left:2228.34px;top:379.00px;font-size:14.58px;transform-origin:50% 50%;transform:scaleX(1.0898)">400</div>
<div class="t" style="left:2147.59px;top:213.00px;font-size:14.58px;transform-origin:100% 50%;transform:scaleX(1.0898)">0</div>
<div class="t" style="left:2311.45px;top:379.00px;font-size:14.58px;transform-origin:50% 50%;transform:scaleX(1.0898)">0</div>
<div class="t" style="left:2131.37px;top:288.00px;font-size:14.58px;transform-origin:100% 50%;transform:scaleX(1.0898)">400</div>
<div class="t" style="left:2378.34px;top:379.00px;font-size:14.58px;transform-origin:50% 50%;transform:scaleX(1.0898)">400</div>
<div class="t" style="left:2131.37px;top:363.00px;font-size:14.58px;transform-origin:100% 50%;transform:scaleX(1.0898)">800</div>
<div class="t" style="left:2453.34px;top:379.00px;font-size:14.58px;transform-origin:50% 50%;transform:scaleX(1.0898)">800</div>
<div class="t" style="left:2304.78px;top:398.00px;font-size:14.58px;transform-origin:50% 50%;transform:scaleX(1.1100)">km</div>
<div class="t" style="left:2110.08px;top:211.00px;font-size:14.58px;transform-origin:9.72px 11.70px;transform:rotate(-90deg) scaleX(1.1100)">km</div>
<div class="t" style="left:2213.42px;top:46.00px;font-size:20.42px;transform-origin:50% 50%;transform:scaleX(1.0545)">SHAP Value=-0.00195</div>
<div class="t" style="left:2531.37px;top:63.00px;font-size:14.58px;transform-origin:100% 50%;transform:scaleX(1.0898)">164</div>
<div class="t" style="left:2553.34px;top:379.00px;font-size:14.58px;transform-origin:50% 50%;transform:scaleX(1.0898)">164</div>
<div class="t" style="left:2539.48px;top:138.00px;font-size:14.58px;transform-origin:100% 50%;transform:scaleX(1.0898)">82</div>
<div class="t" style="left:2632.39px;top:379.00px;font-size:14.58px;transform-origin:50% 50%;transform:scaleX(1.0898)">82</div>
<div class="t" style="left:2547.59px;top:213.00px;font-size:14.58px;transform-origin:100% 50%;transform:scaleX(1.0898)">0</div>
<div class="t" style="left:2711.45px;top:379.00px;font-size:14.58px;transform-origin:50% 50%;transform:scaleX(1.0898)">0</div>
<div class="t" style="left:2539.48px;top:288.00px;font-size:14.58px;transform-origin:100% 50%;transform:scaleX(1.0898)">82</div>
<div class="t" style="left:2782.39px;top:379.00px;font-size:14.58px;transform-origin:50% 50%;transform:scaleX(1.0898)">82</div>
<div class="t" style="left:2531.37px;top:363.00px;font-size:14.58px;transform-origin:100% 50%;transform:scaleX(1.0898)">164</div>
<div class="t" style="left:2853.34px;top:379.00px;font-size:14.58px;transform-origin:50% 50%;transform:scaleX(1.0898)">164</div>
<div class="t" style="left:2704.78px;top:398.00px;font-size:14.58px;transform-origin:50% 50%;transform:scaleX(1.1100)">km</div>
<div class="t" style="left:2510.08px;top:211.00px;font-size:14.58px;transform-origin:9.72px 11.70px;transform:rotate(-90deg) scaleX(1.1100)">km</div>
<div class="t" style="left:2623.54px;top:46.00px;font-size:20.42px;transform-origin:50% 50%;transform:scaleX(1.0557)">20250928 at 15UTC</div>
<div class="t" style="left:2906.37px;top:63.00px;font-size:14.58px;transform-origin:100% 50%;transform:scaleX(1.0898)">164</div>
<div class="t" style="left:2928.34px;top:379.00px;font-size:14.58px;transform-origin:50% 50%;transform:scaleX(1.0898)">164</div>
<div class="t" style="left:2914.48px;top:138.00px;font-size:14.58px;transform-origin:100% 50%;transform:scaleX(1.0898)">82</div>
<div class="t" style="left:3007.39px;top:379.00px;font-size:14.58px;transform-origin:50% 50%;transform:scaleX(1.0898)">82</div>
<div class="t" style="left:2922.59px;top:213.00px;font-size:14.58px;transform-origin:100% 50%;transform:scaleX(1.0898)">0</div>
<div class="t" style="left:3086.45px;top:379.00px;font-size:14.58px;transform-origin:50% 50%;transform:scaleX(1.0898)">0</div>
<div class="t" style="left:2914.48px;top:288.00px;font-size:14.58px;transform-origin:100% 50%;transform:scaleX(1.0898)">82</div>
<div class="t" style="left:3157.39px;top:379.00px;font-size:14.58px;transform-origin:50% 50%;transform:scaleX(1.0898)">82</div>
<div class="t" style="left:2906.37px;top:363.00px;font-size:14.58px;transform-origin:100% 50%;transform:scaleX(1.0898)">164</div>
<div class="t" style="left:3228.34px;top:379.00px;font-size:14.58px;transform-origin:50% 50%;transform:scaleX(1.0898)">164</div>
<div class="t" style="left:3079.78px;top:398.00px;font-size:14.58px;transform-origin:50% 50%;transform:scaleX(1.1100)">km</div>
<div class="t" style="left:2885.08px;top:211.00px;font-size:14.58px;transform-origin:9.72px 11.70px;transform:rotate(-90deg) scaleX(1.1100)">km</div>
<div class="t" style="left:2998.54px;top:46.00px;font-size:20.42px;transform-origin:50% 50%;transform:scaleX(1.0557)">20250928 at 18UTC</div>
<div class="t" style="left:3281.37px;top:63.00px;font-size:14.58px;transform-origin:100% 50%;transform:scaleX(1.0898)">164</div>
<div class="t" style="left:3303.34px;top:379.00px;font-size:14.58px;transform-origin:50% 50%;transform:scaleX(1.0898)">164</div>
<div class="t" style="left:3289.48px;top:138.00px;font-size:14.58px;transform-origin:100% 50%;transform:scaleX(1.0898)">82</div>
<div class="t" style="left:3382.39px;top:379.00px;font-size:14.58px;transform-origin:50% 50%;transform:scaleX(1.0898)">82</div>
<div class="t" style="left:3297.59px;top:213.00px;font-size:14.58px;transform-origin:100% 50%;transform:scaleX(1.0898)">0</div>
<div class="t" style="left:3461.45px;top:379.00px;font-size:14.58px;transform-origin:50% 50%;transform:scaleX(1.0898)">0</div>
<div class="t" style="left:3289.48px;top:288.00px;font-size:14.58px;transform-origin:100% 50%;transform:scaleX(1.0898)">82</div>
<div class="t" style="left:3532.39px;top:379.00px;font-size:14.58px;transform-origin:50% 50%;transform:scaleX(1.0898)">82</div>
<div class="t" style="left:3281.37px;top:363.00px;font-size:14.58px;transform-origin:100% 50%;transform:scaleX(1.0898)">164</div>
<div class="t" style="left:3603.34px;top:379.00px;font-size:14.58px;transform-origin:50% 50%;transform:scaleX(1.0898)">164</div>
<div class="t" style="left:3454.78px;top:398.00px;font-size:14.58px;transform-origin:50% 50%;transform:scaleX(1.1100)">km</div>
<div class="t" style="left:3260.08px;top:211.00px;font-size:14.58px;transform-origin:9.72px 11.70px;transform:rotate(-90deg) scaleX(1.1100)">km</div>
<div class="t" style="left:3389.46px;top:46.00px;font-size:20.42px;transform-origin:50% 50%;transform:scaleX(1.0710)">Normalized Data</div>
<div class="t" style="left:3656.37px;top:63.00px;font-size:14.58px;transform-origin:100% 50%;transform:scaleX(1.0898)">164</div>
<div class="t" style="left:3678.34px;top:379.00px;font-size:14.58px;transform-origin:50% 50%;transform:scaleX(1.0898)">164</div>
<div class="t" style="left:3664.48px;top:138.00px;font-size:14.58px;transform-origin:100% 50%;transform:scaleX(1.0898)">82</div>
<div class="t" style="left:3757.39px;top:379.00px;font-size:14.58px;transform-origin:50% 50%;transform:scaleX(1.0898)">82</div>
<div class="t" style="left:3672.59px;top:213.00px;font-size:14.58px;transform-origin:100% 50%;transform:scaleX(1.0898)">0</div>
<div class="t" style="left:3836.45px;top:379.00px;font-size:14.58px;transform-origin:50% 50%;transform:scaleX(1.0898)">0</div>
<div class="t" style="left:3664.48px;top:288.00px;font-size:14.58px;transform-origin:100% 50%;transform:scaleX(1.0898)">82</div>
<div class="t" style="left:3907.39px;top:379.00px;font-size:14.58px;transform-origin:50% 50%;transform:scaleX(1.0898)">82</div>
<div class="t" style="left:3656.37px;top:363.00px;font-size:14.58px;transform-origin:100% 50%;transform:scaleX(1.0898)">164</div>
<div class="t" style="left:3978.34px;top:379.00px;font-size:14.58px;transform-origin:50% 50%;transform:scaleX(1.0898)">164</div>
<div class="t" style="left:3829.78px;top:398.00px;font-size:14.58px;transform-origin:50% 50%;transform:scaleX(1.1100)">km</div>
<div class="t" style="left:3635.08px;top:211.00px;font-size:14.58px;transform-origin:9.72px 11.70px;transform:rotate(-90deg) scaleX(1.1100)">km</div>
<div class="t" style="left:3738.42px;top:46.00px;font-size:20.42px;transform-origin:50% 50%;transform:scaleX(1.0545)">SHAP Value=-0.00347</div>
<div class="t" style="left:1381.37px;top:438.00px;font-size:14.58px;transform-origin:100% 50%;transform:scaleX(1.0898)">800</div>
<div class="t" style="left:1403.34px;top:754.00px;font-size:14.58px;transform-origin:50% 50%;transform:scaleX(1.0898)">800</div>
<div class="t" style="left:1381.37px;top:513.00px;font-size:14.58px;transform-origin:100% 50%;transform:scaleX(1.0898)">400</div>
<div class="t" style="left:1478.34px;top:754.00px;font-size:14.58px;transform-origin:50% 50%;transform:scaleX(1.0898)">400</div>
<div class="t" style="left:1397.59px;top:588.00px;font-size:14.58px;transform-origin:100% 50%;transform:scaleX(1.0898)">0</div>
<div class="t" style="left:1561.45px;top:754.00px;font-size:14.58px;transform-origin:50% 50%;transform:scaleX(1.0898)">0</div>
<div class="t" style="left:1381.37px;top:663.00px;font-size:14.58px;transform-origin:100% 50%;transform:scaleX(1.0898)">400</div>
<div class="t" style="left:1628.34px;top:754.00px;font-size:14.58px;transform-origin:50% 50%;transform:scaleX(1.0898)">400</div>
<div class="t" style="left:1381.37px;top:738.00px;font-size:14.58px;transform-origin:100% 50%;transform:scaleX(1.0898)">800</div>
<div class="t" style="left:1703.34px;top:754.00px;font-size:14.58px;transform-origin:50% 50%;transform:scaleX(1.0898)">800</div>
<div class="t" style="left:1554.78px;top:773.00px;font-size:14.58px;transform-origin:50% 50%;transform:scaleX(1.1100)">km</div>
<div class="t" style="left:1360.08px;top:586.00px;font-size:14.58px;transform-origin:9.72px 11.70px;transform:rotate(-90deg) scaleX(1.1100)">km</div>
<div class="t" style="left:1530.89px;top:421.00px;font-size:20.42px;transform-origin:50% 50%;transform:scaleX(1.0379)">IR Data</div>
<div class="t" style="left:1756.37px;top:438.00px;font-size:14.58px;transform-origin:100% 50%;transform:scaleX(1.0898)">800</div>
<div class="t" style="left:1778.34px;top:754.00px;font-size:14.58px;transform-origin:50% 50%;transform:scaleX(1.0898)">800</div>
<div class="t" style="left:1756.37px;top:513.00px;font-size:14.58px;transform-origin:100% 50%;transform:scaleX(1.0898)">400</div>
<div class="t" style="left:1853.34px;top:754.00px;font-size:14.58px;transform-origin:50% 50%;transform:scaleX(1.0898)">400</div>
<div class="t" style="left:1772.59px;top:588.00px;font-size:14.58px;transform-origin:100% 50%;transform:scaleX(1.0898)">0</div>
<div class="t" style="left:1936.45px;top:754.00px;font-size:14.58px;transform-origin:50% 50%;transform:scaleX(1.0898)">0</div>
<div class="t" style="left:1756.37px;top:663.00px;font-size:14.58px;transform-origin:100% 50%;transform:scaleX(1.0898)">400</div>
<div class="t" style="left:2003.34px;top:754.00px;font-size:14.58px;transform-origin:50% 50%;transform:scaleX(1.0898)">400</div>
<div class="t" style="left:1756.37px;top:738.00px;font-size:14.58px;transform-origin:100% 50%;transform:scaleX(1.0898)">800</div>
<div class="t" style="left:2078.34px;top:754.00px;font-size:14.58px;transform-origin:50% 50%;transform:scaleX(1.0898)">800</div>
<div class="t" style="left:1929.78px;top:773.00px;font-size:14.58px;transform-origin:50% 50%;transform:scaleX(1.1100)">km</div>
<div class="t" style="left:1735.08px;top:586.00px;font-size:14.58px;transform-origin:9.72px 11.70px;transform:rotate(-90deg) scaleX(1.1100)">km</div>
<div class="t" style="left:1851.42px;top:421.00px;font-size:20.42px;transform-origin:50% 50%;transform:scaleX(1.0569)">Normalized IR Data</div>
<div class="t" style="left:2131.37px;top:438.00px;font-size:14.58px;transform-origin:100% 50%;transform:scaleX(1.0898)">800</div>
<div class="t" style="left:2153.34px;top:754.00px;font-size:14.58px;transform-origin:50% 50%;transform:scaleX(1.0898)">800</div>
<div class="t" style="left:2131.37px;top:513.00px;font-size:14.58px;transform-origin:100% 50%;transform:scaleX(1.0898)">400</div>
<div class="t" style="left:2228.34px;top:754.00px;font-size:14.58px;transform-origin:50% 50%;transform:scaleX(1.0898)">400</div>
<div class="t" style="left:2147.59px;top:588.00px;font-size:14.58px;transform-origin:100% 50%;transform:scaleX(1.0898)">0</div>
<div class="t" style="left:2311.45px;top:754.00px;font-size:14.58px;transform-origin:50% 50%;transform:scaleX(1.0898)">0</div>
<div class="t" style="left:2131.37px;top:663.00px;font-size:14.58px;transform-origin:100% 50%;transform:scaleX(1.0898)">400</div>
<div class="t" style="left:2378.34px;top:754.00px;font-size:14.58px;transform-origin:50% 50%;transform:scaleX(1.0898)">400</div>
<div class="t" style="left:2131.37px;top:738.00px;font-size:14.58px;transform-origin:100% 50%;transform:scaleX(1.0898)">800</div>
<div class="t" style="left:2453.34px;top:754.00px;font-size:14.58px;transform-origin:50% 50%;transform:scaleX(1.0898)">800</div>
<div class="t" style="left:2304.78px;top:773.00px;font-size:14.58px;transform-origin:50% 50%;transform:scaleX(1.1100)">km</div>
<div class="t" style="left:2110.08px;top:586.00px;font-size:14.58px;transform-origin:9.72px 11.70px;transform:rotate(-90deg) scaleX(1.1100)">km</div>
<div class="t" style="left:2216.82px;top:421.00px;font-size:20.42px;transform-origin:50% 50%;transform:scaleX(1.0553)">SHAP Value=0.00230</div>
<div class="t" style="left:2531.37px;top:438.00px;font-size:14.58px;transform-origin:100% 50%;transform:scaleX(1.0898)">164</div>
<div class="t" style="left:2553.34px;top:754.00px;font-size:14.58px;transform-origin:50% 50%;transform:scaleX(1.0898)">164</div>
<div class="t" style="left:2539.48px;top:513.00px;font-size:14.58px;transform-origin:100% 50%;transform:scaleX(1.0898)">82</div>
<div class="t" style="left:2632.39px;top:754.00px;font-size:14.58px;transform-origin:50% 50%;transform:scaleX(1.0898)">82</div>
<div class="t" style="left:2547.59px;top:588.00px;font-size:14.58px;transform-origin:100% 50%;transform:scaleX(1.0898)">0</div>
<div class="t" style="left:2711.45px;top:754.00px;font-size:14.58px;transform-origin:50% 50%;transform:scaleX(1.0898)">0</div>
<div class="t" style="left:2539.48px;top:663.00px;font-size:14.58px;transform-origin:100% 50%;transform:scaleX(1.0898)">82</div>
<div class="t" style="left:2782.39px;top:754.00px;font-size:14.58px;transform-origin:50% 50%;transform:scaleX(1.0898)">82</div>
<div class="t" style="left:2531.37px;top:738.00px;font-size:14.58px;transform-origin:100% 50%;transform:scaleX(1.0898)">164</div>
<div class="t" style="left:2853.34px;top:754.00px;font-size:14.58px;transform-origin:50% 50%;transform:scaleX(1.0898)">164</div>
<div class="t" style="left:2704.78px;top:773.00px;font-size:14.58px;transform-origin:50% 50%;transform:scaleX(1.1100)">km</div>
<div class="t" style="left:2510.08px;top:586.00px;font-size:14.58px;transform-origin:9.72px 11.70px;transform:rotate(-90deg) scaleX(1.1100)">km</div>
<div class="t" style="left:2623.54px;top:421.00px;font-size:20.42px;transform-origin:50% 50%;transform:scaleX(1.0557)">20250928 at 15UTC</div>
<div class="t" style="left:2906.37px;top:438.00px;font-size:14.58px;transform-origin:100% 50%;transform:scaleX(1.0898)">164</div>
<div class="t" style="left:2928.34px;top:754.00px;font-size:14.58px;transform-origin:50% 50%;transform:scaleX(1.0898)">164</div>
<div class="t" style="left:2914.48px;top:513.00px;font-size:14.58px;transform-origin:100% 50%;transform:scaleX(1.0898)">82</div>
<div class="t" style="left:3007.39px;top:754.00px;font-size:14.58px;transform-origin:50% 50%;transform:scaleX(1.0898)">82</div>
<div class="t" style="left:2922.59px;top:588.00px;font-size:14.58px;transform-origin:100% 50%;transform:scaleX(1.0898)">0</div>
<div class="t" style="left:3086.45px;top:754.00px;font-size:14.58px;transform-origin:50% 50%;transform:scaleX(1.0898)">0</div>
<div class="t" style="left:2914.48px;top:663.00px;font-size:14.58px;transform-origin:100% 50%;transform:scaleX(1.0898)">82</div>
<div class="t" style="left:3157.39px;top:754.00px;font-size:14.58px;transform-origin:50% 50%;transform:scaleX(1.0898)">82</div>
<div class="t" style="left:2906.37px;top:738.00px;font-size:14.58px;transform-origin:100% 50%;transform:scaleX(1.0898)">164</div>
<div class="t" style="left:3228.34px;top:754.00px;font-size:14.58px;transform-origin:50% 50%;transform:scaleX(1.0898)">164</div>
<div class="t" style="left:3079.78px;top:773.00px;font-size:14.58px;transform-origin:50% 50%;transform:scaleX(1.1100)">km</div>
<div class="t" style="left:2885.08px;top:586.00px;font-size:14.58px;transform-origin:9.72px 11.70px;transform:rotate(-90deg) scaleX(1.1100)">km</div>
<div class="t" style="left:2998.54px;top:421.00px;font-size:20.42px;transform-origin:50% 50%;transform:scaleX(1.0557)">20250928 at 18UTC</div>
<div class="t" style="left:3281.37px;top:438.00px;font-size:14.58px;transform-origin:100% 50%;transform:scaleX(1.0898)">164</div>
<div class="t" style="left:3303.34px;top:754.00px;font-size:14.58px;transform-origin:50% 50%;transform:scaleX(1.0898)">164</div>
<div class="t" style="left:3289.48px;top:513.00px;font-size:14.58px;transform-origin:100% 50%;transform:scaleX(1.0898)">82</div>
<div class="t" style="left:3382.39px;top:754.00px;font-size:14.58px;transform-origin:50% 50%;transform:scaleX(1.0898)">82</div>
<div class="t" style="left:3297.59px;top:588.00px;font-size:14.58px;transform-origin:100% 50%;transform:scaleX(1.0898)">0</div>
<div class="t" style="left:3461.45px;top:754.00px;font-size:14.58px;transform-origin:50% 50%;transform:scaleX(1.0898)">0</div>
<div class="t" style="left:3289.48px;top:663.00px;font-size:14.58px;transform-origin:100% 50%;transform:scaleX(1.0898)">82</div>
<div class="t" style="left:3532.39px;top:754.00px;font-size:14.58px;transform-origin:50% 50%;transform:scaleX(1.0898)">82</div>
<div class="t" style="left:3281.37px;top:738.00px;font-size:14.58px;transform-origin:100% 50%;transform:scaleX(1.0898)">164</div>
<div class="t" style="left:3603.34px;top:754.00px;font-size:14.58px;transform-origin:50% 50%;transform:scaleX(1.0898)">164</div>
<div class="t" style="left:3454.78px;top:773.00px;font-size:14.58px;transform-origin:50% 50%;transform:scaleX(1.1100)">km</div>
<div class="t" style="left:3260.08px;top:586.00px;font-size:14.58px;transform-origin:9.72px 11.70px;transform:rotate(-90deg) scaleX(1.1100)">km</div>
<div class="t" style="left:3389.46px;top:421.00px;font-size:20.42px;transform-origin:50% 50%;transform:scaleX(1.0710)">Normalized Data</div>
<div class="t" style="left:3656.37px;top:438.00px;font-size:14.58px;transform-origin:100% 50%;transform:scaleX(1.0898)">164</div>
<div class="t" style="left:3678.34px;top:754.00px;font-size:14.58px;transform-origin:50% 50%;transform:scaleX(1.0898)">164</div>
<div class="t" style="left:3664.48px;top:513.00px;font-size:14.58px;transform-origin:100% 50%;transform:scaleX(1.0898)">82</div>
<div class="t" style="left:3757.39px;top:754.00px;font-size:14.58px;transform-origin:50% 50%;transform:scaleX(1.0898)">82</div>
<div class="t" style="left:3672.59px;top:588.00px;font-size:14.58px;transform-origin:100% 50%;transform:scaleX(1.0898)">0</div>
<div class="t" style="left:3836.45px;top:754.00px;font-size:14.58px;transform-origin:50% 50%;transform:scaleX(1.0898)">0</div>
<div class="t" style="left:3664.48px;top:663.00px;font-size:14.58px;transform-origin:100% 50%;transform:scaleX(1.0898)">82</div>
<div class="t" style="left:3907.39px;top:754.00px;font-size:14.58px;transform-origin:50% 50%;transform:scaleX(1.0898)">82</div>
<div class="t" style="left:3656.37px;top:738.00px;font-size:14.58px;transform-origin:100% 50%;transform:scaleX(1.0898)">164</div>
<div class="t" style="left:3978.34px;top:754.00px;font-size:14.58px;transform-origin:50% 50%;transform:scaleX(1.0898)">164</div>
<div class="t" style="left:3829.78px;top:773.00px;font-size:14.58px;transform-origin:50% 50%;transform:scaleX(1.1100)">km</div>
<div class="t" style="left:3635.08px;top:586.00px;font-size:14.58px;transform-origin:9.72px 11.70px;transform:rotate(-90deg) scaleX(1.1100)">km</div>
<div class="t" style="left:3738.42px;top:421.00px;font-size:20.42px;transform-origin:50% 50%;transform:scaleX(1.0545)">SHAP Value=-0.00472</div>
<div class="t" style="left:1381.37px;top:813.00px;font-size:14.58px;transform-origin:100% 50%;transform:scaleX(1.0898)">800</div>
<div class="t" style="left:1403.34px;top:1129.00px;font-size:14.58px;transform-origin:50% 50%;transform:scaleX(1.0898)">800</div>
<div class="t" style="left:1381.37px;top:888.00px;font-size:14.58px;transform-origin:100% 50%;transform:scaleX(1.0898)">400</div>
<div class="t" style="left:1478.34px;top:1129.00px;font-size:14.58px;transform-origin:50% 50%;transform:scaleX(1.0898)">400</div>
<div class="t" style="left:1397.59px;top:963.00px;font-size:14.58px;transform-origin:100% 50%;transform:scaleX(1.0898)">0</div>
<div class="t" style="left:1561.45px;top:1129.00px;font-size:14.58px;transform-origin:50% 50%;transform:scaleX(1.0898)">0</div>
<div class="t" style="left:1381.37px;top:1038.00px;font-size:14.58px;transform-origin:100% 50%;transform:scaleX(1.0898)">400</div>
<div class="t" style="left:1628.34px;top:1129.00px;font-size:14.58px;transform-origin:50% 50%;transform:scaleX(1.0898)">400</div>
<div class="t" style="left:1381.37px;top:1113.00px;font-size:14.58px;transform-origin:100% 50%;transform:scaleX(1.0898)">800</div>
<div class="t" style="left:1703.34px;top:1129.00px;font-size:14.58px;transform-origin:50% 50%;transform:scaleX(1.0898)">800</div>
<div class="t" style="left:1554.78px;top:1148.00px;font-size:14.58px;transform-origin:50% 50%;transform:scaleX(1.1100)">km</div>
<div class="t" style="left:1360.08px;top:961.00px;font-size:14.58px;transform-origin:9.72px 11.70px;transform:rotate(-90deg) scaleX(1.1100)">km</div>
<div class="t" style="left:1530.89px;top:796.00px;font-size:20.42px;transform-origin:50% 50%;transform:scaleX(1.0379)">IR Data</div>
<div class="t" style="left:1756.37px;top:813.00px;font-size:14.58px;transform-origin:100% 50%;transform:scaleX(1.0898)">800</div>
<div class="t" style="left:1778.34px;top:1129.00px;font-size:14.58px;transform-origin:50% 50%;transform:scaleX(1.0898)">800</div>
<div class="t" style="left:1756.37px;top:888.00px;font-size:14.58px;transform-origin:100% 50%;transform:scaleX(1.0898)">400</div>
<div class="t" style="left:1853.34px;top:1129.00px;font-size:14.58px;transform-origin:50% 50%;transform:scaleX(1.0898)">400</div>
<div class="t" style="left:1772.59px;top:963.00px;font-size:14.58px;transform-origin:100% 50%;transform:scaleX(1.0898)">0</div>
<div class="t" style="left:1936.45px;top:1129.00px;font-size:14.58px;transform-origin:50% 50%;transform:scaleX(1.0898)">0</div>
<div class="t" style="left:1756.37px;top:1038.00px;font-size:14.58px;transform-origin:100% 50%;transform:scaleX(1.0898)">400</div>
<div class="t" style="left:2003.34px;top:1129.00px;font-size:14.58px;transform-origin:50% 50%;transform:scaleX(1.0898)">400</div>
<div class="t" style="left:1756.37px;top:1113.00px;font-size:14.58px;transform-origin:100% 50%;transform:scaleX(1.0898)">800</div>
<div class="t" style="left:2078.34px;top:1129.00px;font-size:14.58px;transform-origin:50% 50%;transform:scaleX(1.0898)">800</div>
<div class="t" style="left:1929.78px;top:1148.00px;font-size:14.58px;transform-origin:50% 50%;transform:scaleX(1.1100)">km</div>
<div class="t" style="left:1735.08px;top:961.00px;font-size:14.58px;transform-origin:9.72px 11.70px;transform:rotate(-90deg) scaleX(1.1100)">km</div>
<div class="t" style="left:1851.42px;top:796.00px;font-size:20.42px;transform-origin:50% 50%;transform:scaleX(1.0569)">Normalized IR Data</div>
<div class="t" style="left:2131.37px;top:813.00px;font-size:14.58px;transform-origin:100% 50%;transform:scaleX(1.0898)">800</div>
<div class="t" style="left:2153.34px;top:1129.00px;font-size:14.58px;transform-origin:50% 50%;transform:scaleX(1.0898)">800</div>
<div class="t" style="left:2131.37px;top:888.00px;font-size:14.58px;transform-origin:100% 50%;transform:scaleX(1.0898)">400</div>
<div class="t" style="left:2228.34px;top:1129.00px;font-size:14.58px;transform-origin:50% 50%;transform:scaleX(1.0898)">400</div>
<div class="t" style="left:2147.59px;top:963.00px;font-size:14.58px;transform-origin:100% 50%;transform:scaleX(1.0898)">0</div>
<div class="t" style="left:2311.45px;top:1129.00px;font-size:14.58px;transform-origin:50% 50%;transform:scaleX(1.0898)">0</div>
<div class="t" style="left:2131.37px;top:1038.00px;font-size:14.58px;transform-origin:100% 50%;transform:scaleX(1.0898)">400</div>
<div class="t" style="left:2378.34px;top:1129.00px;font-size:14.58px;transform-origin:50% 50%;transform:scaleX(1.0898)">400</div>
<div class="t" style="left:2131.37px;top:1113.00px;font-size:14.58px;transform-origin:100% 50%;transform:scaleX(1.0898)">800</div>
<div class="t" style="left:2453.34px;top:1129.00px;font-size:14.58px;transform-origin:50% 50%;transform:scaleX(1.0898)">800</div>
<div class="t" style="left:2304.78px;top:1148.00px;font-size:14.58px;transform-origin:50% 50%;transform:scaleX(1.1100)">km</div>
<div class="t" style="left:2110.08px;top:961.00px;font-size:14.58px;transform-origin:9.72px 11.70px;transform:rotate(-90deg) scaleX(1.1100)">km</div>
<div class="t" style="left:2213.42px;top:796.00px;font-size:20.42px;transform-origin:50% 50%;transform:scaleX(1.0545)">SHAP Value=-0.00077</div>
<div class="t" style="left:2531.37px;top:813.00px;font-size:14.58px;transform-origin:100% 50%;transform:scaleX(1.0898)">164</div>
<div class="t" style="left:2553.34px;top:1129.00px;font-size:14.58px;transform-origin:50% 50%;transform:scaleX(1.0898)">164</div>
<div class="t" style="left:2539.48px;top:888.00px;font-size:14.58px;transform-origin:100% 50%;transform:scaleX(1.0898)">82</div>
<div class="t" style="left:2632.39px;top:1129.00px;font-size:14.58px;transform-origin:50% 50%;transform:scaleX(1.0898)">82</div>
<div class="t" style="left:2547.59px;top:963.00px;font-size:14.58px;transform-origin:100% 50%;transform:scaleX(1.0898)">0</div>
<div class="t" style="left:2711.45px;top:1129.00px;font-size:14.58px;transform-origin:50% 50%;transform:scaleX(1.0898)">0</div>
<div class="t" style="left:2539.48px;top:1038.00px;font-size:14.58px;transform-origin:100% 50%;transform:scaleX(1.0898)">82</div>
<div class="t" style="left:2782.39px;top:1129.00px;font-size:14.58px;transform-origin:50% 50%;transform:scaleX(1.0898)">82</div>
<div class="t" style="left:2531.37px;top:1113.00px;font-size:14.58px;transform-origin:100% 50%;transform:scaleX(1.0898)">164</div>
<div class="t" style="left:2853.34px;top:1129.00px;font-size:14.58px;transform-origin:50% 50%;transform:scaleX(1.0898)">164</div>
<div class="t" style="left:2704.78px;top:1148.00px;font-size:14.58px;transform-origin:50% 50%;transform:scaleX(1.1100)">km</div>
<div class="t" style="left:2510.08px;top:961.00px;font-size:14.58px;transform-origin:9.72px 11.70px;transform:rotate(-90deg) scaleX(1.1100)">km</div>
<div class="t" style="left:2623.54px;top:796.00px;font-size:20.42px;transform-origin:50% 50%;transform:scaleX(1.0557)">20250928 at 15UTC</div>
<div class="t" style="left:2906.37px;top:813.00px;font-size:14.58px;transform-origin:100% 50%;transform:scaleX(1.0898)">164</div>
<div class="t" style="left:2928.34px;top:1129.00px;font-size:14.58px;transform-origin:50% 50%;transform:scaleX(1.0898)">164</div>
<div class="t" style="left:2914.48px;top:888.00px;font-size:14.58px;transform-origin:100% 50%;transform:scaleX(1.0898)">82</div>
<div class="t" style="left:3007.39px;top:1129.00px;font-size:14.58px;transform-origin:50% 50%;transform:scaleX(1.0898)">82</div>
<div class="t" style="left:2922.59px;top:963.00px;font-size:14.58px;transform-origin:100% 50%;transform:scaleX(1.0898)">0</div>
<div class="t" style="left:3086.45px;top:1129.00px;font-size:14.58px;transform-origin:50% 50%;transform:scaleX(1.0898)">0</div>
<div class="t" style="left:2914.48px;top:1038.00px;font-size:14.58px;transform-origin:100% 50%;transform:scaleX(1.0898)">82</div>
<div class="t" style="left:3157.39px;top:1129.00px;font-size:14.58px;transform-origin:50% 50%;transform:scaleX(1.0898)">82</div>
<div class="t" style="left:2906.37px;top:1113.00px;font-size:14.58px;transform-origin:100% 50%;transform:scaleX(1.0898)">164</div>
<div class="t" style="left:3228.34px;top:1129.00px;font-size:14.58px;transform-origin:50% 50%;transform:scaleX(1.0898)">164</div>
<div class="t" style="left:3079.78px;top:1148.00px;font-size:14.58px;transform-origin:50% 50%;transform:scaleX(1.1100)">km</div>
<div class="t" style="left:2885.08px;top:961.00px;font-size:14.58px;transform-origin:9.72px 11.70px;transform:rotate(-90deg) scaleX(1.1100)">km</div>
<div class="t" style="left:2998.54px;top:796.00px;font-size:20.42px;transform-origin:50% 50%;transform:scaleX(1.0557)">20250928 at 18UTC</div>
<div class="t" style="left:3281.37px;top:813.00px;font-size:14.58px;transform-origin:100% 50%;transform:scaleX(1.0898)">164</div>
<div class="t" style="left:3303.34px;top:1129.00px;font-size:14.58px;transform-origin:50% 50%;transform:scaleX(1.0898)">164</div>
<div class="t" style="left:3289.48px;top:888.00px;font-size:14.58px;transform-origin:100% 50%;transform:scaleX(1.0898)">82</div>
<div class="t" style="left:3382.39px;top:1129.00px;font-size:14.58px;transform-origin:50% 50%;transform:scaleX(1.0898)">82</div>
<div class="t" style="left:3297.59px;top:963.00px;font-size:14.58px;transform-origin:100% 50%;transform:scaleX(1.0898)">0</div>
<div class="t" style="left:3461.45px;top:1129.00px;font-size:14.58px;transform-origin:50% 50%;transform:scaleX(1.0898)">0</div>
<div class="t" style="left:3289.48px;top:1038.00px;font-size:14.58px;transform-origin:100% 50%;transform:scaleX(1.0898)">82</div>
<div class="t" style="left:3532.39px;top:1129.00px;font-size:14.58px;transform-origin:50% 50%;transform:scaleX(1.0898)">82</div>
<div class="t" style="left:3281.37px;top:1113.00px;font-size:14.58px;transform-origin:100% 50%;transform:scaleX(1.0898)">164</div>
<div class="t" style="left:3603.34px;top:1129.00px;font-size:14.58px;transform-origin:50% 50%;transform:scaleX(1.0898)">164</div>
<div class="t" style="left:3454.78px;top:1148.00px;font-size:14.58px;transform-origin:50% 50%;transform:scaleX(1.1100)">km</div>
<div class="t" style="left:3260.08px;top:961.00px;font-size:14.58px;transform-origin:9.72px 11.70px;transform:rotate(-90deg) scaleX(1.1100)">km</div>
<div class="t" style="left:3389.46px;top:796.00px;font-size:20.42px;transform-origin:50% 50%;transform:scaleX(1.0710)">Normalized Data</div>
<div class="t" style="left:3656.37px;top:813.00px;font-size:14.58px;transform-origin:100% 50%;transform:scaleX(1.0898)">164</div>
<div class="t" style="left:3678.34px;top:1129.00px;font-size:14.58px;transform-origin:50% 50%;transform:scaleX(1.0898)">164</div>
<div class="t" style="left:3664.48px;top:888.00px;font-size:14.58px;transform-origin:100% 50%;transform:scaleX(1.0898)">82</div>
<div class="t" style="left:3757.39px;top:1129.00px;font-size:14.58px;transform-origin:50% 50%;transform:scaleX(1.0898)">82</div>
<div class="t" style="left:3672.59px;top:963.00px;font-size:14.58px;transform-origin:100% 50%;transform:scaleX(1.0898)">0</div>
<div class="t" style="left:3836.45px;top:1129.00px;font-size:14.58px;transform-origin:50% 50%;transform:scaleX(1.0898)">0</div>
<div class="t" style="left:3664.48px;top:1038.00px;font-size:14.58px;transform-origin:100% 50%;transform:scaleX(1.0898)">82</div>
<div class="t" style="left:3907.39px;top:1129.00px;font-size:14.58px;transform-origin:50% 50%;transform:scaleX(1.0898)">82</div>
<div class="t" style="left:3656.37px;top:1113.00px;font-size:14.58px;transform-origin:100% 50%;transform:scaleX(1.0898)">164</div>
<div class="t" style="left:3978.34px;top:1129.00px;font-size:14.58px;transform-origin:50% 50%;transform:scaleX(1.0898)">164</div>
<div class="t" style="left:3829.78px;top:1148.00px;font-size:14.58px;transform-origin:50% 50%;transform:scaleX(1.1100)">km</div>
<div class="t" style="left:3635.08px;top:961.00px;font-size:14.58px;transform-origin:9.72px 11.70px;transform:rotate(-90deg) scaleX(1.1100)">km</div>
<div class="t" style="left:3738.42px;top:796.00px;font-size:20.42px;transform-origin:50% 50%;transform:scaleX(1.0545)">SHAP Value=-0.00337</div>
<div class="t" style="left:1381.37px;top:1188.00px;font-size:14.58px;transform-origin:100% 50%;transform:scaleX(1.0898)">800</div>
<div class="t" style="left:1403.34px;top:1504.00px;font-size:14.58px;transform-origin:50% 50%;transform:scaleX(1.0898)">800</div>
<div class="t" style="left:1381.37px;top:1263.00px;font-size:14.58px;transform-origin:100% 50%;transform:scaleX(1.0898)">400</div>
<div class="t" style="left:1478.34px;top:1504.00px;font-size:14.58px;transform-origin:50% 50%;transform:scaleX(1.0898)">400</div>
<div class="t" style="left:1397.59px;top:1338.00px;font-size:14.58px;transform-origin:100% 50%;transform:scaleX(1.0898)">0</div>
<div class="t" style="left:1561.45px;top:1504.00px;font-size:14.58px;transform-origin:50% 50%;transform:scaleX(1.0898)">0</div>
<div class="t" style="left:1381.37px;top:1413.00px;font-size:14.58px;transform-origin:100% 50%;transform:scaleX(1.0898)">400</div>
<div class="t" style="left:1628.34px;top:1504.00px;font-size:14.58px;transform-origin:50% 50%;transform:scaleX(1.0898)">400</div>
<div class="t" style="left:1381.37px;top:1488.00px;font-size:14.58px;transform-origin:100% 50%;transform:scaleX(1.0898)">800</div>
<div class="t" style="left:1703.34px;top:1504.00px;font-size:14.58px;transform-origin:50% 50%;transform:scaleX(1.0898)">800</div>
<div class="t" style="left:1554.78px;top:1523.00px;font-size:14.58px;transform-origin:50% 50%;transform:scaleX(1.1100)">km</div>
<div class="t" style="left:1360.08px;top:1336.00px;font-size:14.58px;transform-origin:9.72px 11.70px;transform:rotate(-90deg) scaleX(1.1100)">km</div>
<div class="t" style="left:1530.89px;top:1171.00px;font-size:20.42px;transform-origin:50% 50%;transform:scaleX(1.0379)">IR Data</div>
<div class="t" style="left:1756.37px;top:1188.00px;font-size:14.58px;transform-origin:100% 50%;transform:scaleX(1.0898)">800</div>
<div class="t" style="left:1778.34px;top:1504.00px;font-size:14.58px;transform-origin:50% 50%;transform:scaleX(1.0898)">800</div>
<div class="t" style="left:1756.37px;top:1263.00px;font-size:14.58px;transform-origin:100% 50%;transform:scaleX(1.0898)">400</div>
<div class="t" style="left:1853.34px;top:1504.00px;font-size:14.58px;transform-origin:50% 50%;transform:scaleX(1.0898)">400</div>
<div class="t" style="left:1772.59px;top:1338.00px;font-size:14.58px;transform-origin:100% 50%;transform:scaleX(1.0898)">0</div>
<div class="t" style="left:1936.45px;top:1504.00px;font-size:14.58px;transform-origin:50% 50%;transform:scaleX(1.0898)">0</div>
<div class="t" style="left:1756.37px;top:1413.00px;font-size:14.58px;transform-origin:100% 50%;transform:scaleX(1.0898)">400</div>
<div class="t" style="left:2003.34px;top:1504.00px;font-size:14.58px;transform-origin:50% 50%;transform:scaleX(1.0898)">400</div>
<div class="t" style="left:1756.37px;top:1488.00px;font-size:14.58px;transform-origin:100% 50%;transform:scaleX(1.0898)">800</div>
<div class="t" style="left:2078.34px;top:1504.00px;font-size:14.58px;transform-origin:50% 50%;transform:scaleX(1.0898)">800</div>
<div class="t" style="left:1929.78px;top:1523.00px;font-size:14.58px;transform-origin:50% 50%;transform:scaleX(1.1100)">km</div>
<div class="t" style="left:1735.08px;top:1336.00px;font-size:14.58px;transform-origin:9.72px 11.70px;transform:rotate(-90deg) scaleX(1.1100)">km</div>
<div class="t" style="left:1851.42px;top:1171.00px;font-size:20.42px;transform-origin:50% 50%;transform:scaleX(1.0569)">Normalized IR Data</div>
<div class="t" style="left:2131.37px;top:1188.00px;font-size:14.58px;transform-origin:100% 50%;transform:scaleX(1.0898)">800</div>
<div class="t" style="left:2153.34px;top:1504.00px;font-size:14.58px;transform-origin:50% 50%;transform:scaleX(1.0898)">800</div>
<div class="t" style="left:2131.37px;top:1263.00px;font-size:14.58px;transform-origin:100% 50%;transform:scaleX(1.0898)">400</div>
<div class="t" style="left:2228.34px;top:1504.00px;font-size:14.58px;transform-origin:50% 50%;transform:scaleX(1.0898)">400</div>
<div class="t" style="left:2147.59px;top:1338.00px;font-size:14.58px;transform-origin:100% 50%;transform:scaleX(1.0898)">0</div>
<div class="t" style="left:2311.45px;top:1504.00px;font-size:14.58px;transform-origin:50% 50%;transform:scaleX(1.0898)">0</div>
<div class="t" style="left:2131.37px;top:1413.00px;font-size:14.58px;transform-origin:100% 50%;transform:scaleX(1.0898)">400</div>
<div class="t" style="left:2378.34px;top:1504.00px;font-size:14.58px;transform-origin:50% 50%;transform:scaleX(1.0898)">400</div>
<div class="t" style="left:2131.37px;top:1488.00px;font-size:14.58px;transform-origin:100% 50%;transform:scaleX(1.0898)">800</div>
<div class="t" style="left:2453.34px;top:1504.00px;font-size:14.58px;transform-origin:50% 50%;transform:scaleX(1.0898)">800</div>
<div class="t" style="left:2304.78px;top:1523.00px;font-size:14.58px;transform-origin:50% 50%;transform:scaleX(1.1100)">km</div>
<div class="t" style="left:2110.08px;top:1336.00px;font-size:14.58px;transform-origin:9.72px 11.70px;transform:rotate(-90deg) scaleX(1.1100)">km</div>
<div class="t" style="left:2213.42px;top:1171.00px;font-size:20.42px;transform-origin:50% 50%;transform:scaleX(1.0545)">SHAP Value=-0.00598</div>
<div class="t" style="left:2531.37px;top:1188.00px;font-size:14.58px;transform-origin:100% 50%;transform:scaleX(1.0898)">164</div>
<div class="t" style="left:2553.34px;top:1504.00px;font-size:14.58px;transform-origin:50% 50%;transform:scaleX(1.0898)">164</div>
<div class="t" style="left:2539.48px;top:1263.00px;font-size:14.58px;transform-origin:100% 50%;transform:scaleX(1.0898)">82</div>
<div class="t" style="left:2632.39px;top:1504.00px;font-size:14.58px;transform-origin:50% 50%;transform:scaleX(1.0898)">82</div>
<div class="t" style="left:2547.59px;top:1338.00px;font-size:14.58px;transform-origin:100% 50%;transform:scaleX(1.0898)">0</div>
<div class="t" style="left:2711.45px;top:1504.00px;font-size:14.58px;transform-origin:50% 50%;transform:scaleX(1.0898)">0</div>
<div class="t" style="left:2539.48px;top:1413.00px;font-size:14.58px;transform-origin:100% 50%;transform:scaleX(1.0898)">82</div>
<div class="t" style="left:2782.39px;top:1504.00px;font-size:14.58px;transform-origin:50% 50%;transform:scaleX(1.0898)">82</div>
<div class="t" style="left:2531.37px;top:1488.00px;font-size:14.58px;transform-origin:100% 50%;transform:scaleX(1.0898)">164</div>
<div class="t" style="left:2853.34px;top:1504.00px;font-size:14.58px;transform-origin:50% 50%;transform:scaleX(1.0898)">164</div>
<div class="t" style="left:2704.78px;top:1523.00px;font-size:14.58px;transform-origin:50% 50%;transform:scaleX(1.1100)">km</div>
<div class="t" style="left:2510.08px;top:1336.00px;font-size:14.58px;transform-origin:9.72px 11.70px;transform:rotate(-90deg) scaleX(1.1100)">km</div>
<div class="t" style="left:2623.54px;top:1171.00px;font-size:20.42px;transform-origin:50% 50%;transform:scaleX(1.0557)">20250928 at 15UTC</div>
<div class="t" style="left:2906.37px;top:1188.00px;font-size:14.58px;transform-origin:100% 50%;transform:scaleX(1.0898)">164</div>
<div class="t" style="left:2928.34px;top:1504.00px;font-size:14.58px;transform-origin:50% 50%;transform:scaleX(1.0898)">164</div>
<div class="t" style="left:2914.48px;top:1263.00px;font-size:14.58px;transform-origin:100% 50%;transform:scaleX(1.0898)">82</div>
<div class="t" style="left:3007.39px;top:1504.00px;font-size:14.58px;transform-origin:50% 50%;transform:scaleX(1.0898)">82</div>
<div class="t" style="left:2922.59px;top:1338.00px;font-size:14.58px;transform-origin:100% 50%;transform:scaleX(1.0898)">0</div>
<div class="t" style="left:3086.45px;top:1504.00px;font-size:14.58px;transform-origin:50% 50%;transform:scaleX(1.0898)">0</div>
<div class="t" style="left:2914.48px;top:1413.00px;font-size:14.58px;transform-origin:100% 50%;transform:scaleX(1.0898)">82</div>
<div class="t" style="left:3157.39px;top:1504.00px;font-size:14.58px;transform-origin:50% 50%;transform:scaleX(1.0898)">82</div>
<div class="t" style="left:2906.37px;top:1488.00px;font-size:14.58px;transform-origin:100% 50%;transform:scaleX(1.0898)">164</div>
<div class="t" style="left:3228.34px;top:1504.00px;font-size:14.58px;transform-origin:50% 50%;transform:scaleX(1.0898)">164</div>
<div class="t" style="left:3079.78px;top:1523.00px;font-size:14.58px;transform-origin:50% 50%;transform:scaleX(1.1100)">km</div>
<div class="t" style="left:2885.08px;top:1336.00px;font-size:14.58px;transform-origin:9.72px 11.70px;transform:rotate(-90deg) scaleX(1.1100)">km</div>
<div class="t" style="left:2998.54px;top:1171.00px;font-size:20.42px;transform-origin:50% 50%;transform:scaleX(1.0557)">20250928 at 18UTC</div>
<div class="t" style="left:3281.37px;top:1188.00px;font-size:14.58px;transform-origin:100% 50%;transform:scaleX(1.0898)">164</div>
<div class="t" style="left:3303.34px;top:1504.00px;font-size:14.58px;transform-origin:50% 50%;transform:scaleX(1.0898)">164</div>
<div class="t" style="left:3289.48px;top:1263.00px;font-size:14.58px;transform-origin:100% 50%;transform:scaleX(1.0898)">82</div>
<div class="t" style="left:3382.39px;top:1504.00px;font-size:14.58px;transform-origin:50% 50%;transform:scaleX(1.0898)">82</div>
<div class="t" style="left:3297.59px;top:1338.00px;font-size:14.58px;transform-origin:100% 50%;transform:scaleX(1.0898)">0</div>
<div class="t" style="left:3461.45px;top:1504.00px;font-size:14.58px;transform-origin:50% 50%;transform:scaleX(1.0898)">0</div>
<div class="t" style="left:3289.48px;top:1413.00px;font-size:14.58px;transform-origin:100% 50%;transform:scaleX(1.0898)">82</div>
<div class="t" style="left:3532.39px;top:1504.00px;font-size:14.58px;transform-origin:50% 50%;transform:scaleX(1.0898)">82</div>
<div class="t" style="left:3281.37px;top:1488.00px;font-size:14.58px;transform-origin:100% 50%;transform:scaleX(1.0898)">164</div>
<div class="t" style="left:3603.34px;top:1504.00px;font-size:14.58px;transform-origin:50% 50%;transform:scaleX(1.0898)">164</div>
<div class="t" style="left:3454.78px;top:1523.00px;font-size:14.58px;transform-origin:50% 50%;transform:scaleX(1.1100)">km</div>
<div class="t" style="left:3260.08px;top:1336.00px;font-size:14.58px;transform-origin:9.72px 11.70px;transform:rotate(-90deg) scaleX(1.1100)">km</div>
<div class="t" style="left:3389.46px;top:1171.00px;font-size:20.42px;transform-origin:50% 50%;transform:scaleX(1.0710)">Normalized Data</div>
<div class="t" style="left:3656.37px;top:1188.00px;font-size:14.58px;transform-origin:100% 50%;transform:scaleX(1.0898)">164</div>
<div class="t" style="left:3678.34px;top:1504.00px;font-size:14.58px;transform-origin:50% 50%;transform:scaleX(1.0898)">164</div>
<div class="t" style="left:3664.48px;top:1263.00px;font-size:14.58px;transform-origin:100% 50%;transform:scaleX(1.0898)">82</div>
<div class="t" style="left:3757.39px;top:1504.00px;font-size:14.58px;transform-origin:50% 50%;transform:scaleX(1.0898)">82</div>
<div class="t" style="left:3672.59px;top:1338.00px;font-size:14.58px;transform-origin:100% 50%;transform:scaleX(1.0898)">0</div>
<div class="t" style="left:3836.45px;top:1504.00px;font-size:14.58px;transform-origin:50% 50%;transform:scaleX(1.0898)">0</div>
<div class="t" style="left:3664.48px;top:1413.00px;font-size:14.58px;transform-origin:100% 50%;transform:scaleX(1.0898)">82</div>
<div class="t" style="left:3907.39px;top:1504.00px;font-size:14.58px;transform-origin:50% 50%;transform:scaleX(1.0898)">82</div>
<div class="t" style="left:3656.37px;top:1488.00px;font-size:14.58px;transform-origin:100% 50%;transform:scaleX(1.0898)">164</div>
<div class="t" style="left:3978.34px;top:1504.00px;font-size:14.58px;transform-origin:50% 50%;transform:scaleX(1.0898)">164</div>
<div class="t" style="left:3829.78px;top:1523.00px;font-size:14.58px;transform-origin:50% 50%;transform:scaleX(1.1100)">km</div>
<div class="t" style="left:3635.08px;top:1336.00px;font-size:14.58px;transform-origin:9.72px 11.70px;transform:rotate(-90deg) scaleX(1.1100)">km</div>
<div class="t" style="left:3738.42px;top:1171.00px;font-size:20.42px;transform-origin:50% 50%;transform:scaleX(1.0545)">SHAP Value=-0.00929</div>
<div class="t" style="left:1381.37px;top:1563.00px;font-size:14.58px;transform-origin:100% 50%;transform:scaleX(1.0898)">800</div>
<div class="t" style="left:1403.34px;top:1879.00px;font-size:14.58px;transform-origin:50% 50%;transform:scaleX(1.0898)">800</div>
<div class="t" style="left:1381.37px;top:1638.00px;font-size:14.58px;transform-origin:100% 50%;transform:scaleX(1.0898)">400</div>
<div class="t" style="left:1478.34px;top:1879.00px;font-size:14.58px;transform-origin:50% 50%;transform:scaleX(1.0898)">400</div>
<div class="t" style="left:1397.59px;top:1713.00px;font-size:14.58px;transform-origin:100% 50%;transform:scaleX(1.0898)">0</div>
<div class="t" style="left:1561.45px;top:1879.00px;font-size:14.58px;transform-origin:50% 50%;transform:scaleX(1.0898)">0</div>
<div class="t" style="left:1381.37px;top:1788.00px;font-size:14.58px;transform-origin:100% 50%;transform:scaleX(1.0898)">400</div>
<div class="t" style="left:1628.34px;top:1879.00px;font-size:14.58px;transform-origin:50% 50%;transform:scaleX(1.0898)">400</div>
<div class="t" style="left:1381.37px;top:1863.00px;font-size:14.58px;transform-origin:100% 50%;transform:scaleX(1.0898)">800</div>
<div class="t" style="left:1703.34px;top:1879.00px;font-size:14.58px;transform-origin:50% 50%;transform:scaleX(1.0898)">800</div>
<div class="t" style="left:1554.78px;top:1898.00px;font-size:14.58px;transform-origin:50% 50%;transform:scaleX(1.1100)">km</div>
<div class="t" style="left:1360.08px;top:1711.00px;font-size:14.58px;transform-origin:9.72px 11.70px;transform:rotate(-90deg) scaleX(1.1100)">km</div>
<div class="t" style="left:1530.89px;top:1546.00px;font-size:20.42px;transform-origin:50% 50%;transform:scaleX(1.0379)">IR Data</div>
<div class="t" style="left:1756.37px;top:1563.00px;font-size:14.58px;transform-origin:100% 50%;transform:scaleX(1.0898)">800</div>
<div class="t" style="left:1778.34px;top:1879.00px;font-size:14.58px;transform-origin:50% 50%;transform:scaleX(1.0898)">800</div>
<div class="t" style="left:1756.37px;top:1638.00px;font-size:14.58px;transform-origin:100% 50%;transform:scaleX(1.0898)">400</div>
<div class="t" style="left:1853.34px;top:1879.00px;font-size:14.58px;transform-origin:50% 50%;transform:scaleX(1.0898)">400</div>
<div class="t" style="left:1772.59px;top:1713.00px;font-size:14.58px;transform-origin:100% 50%;transform:scaleX(1.0898)">0</div>
<div class="t" style="left:1936.45px;top:1879.00px;font-size:14.58px;transform-origin:50% 50%;transform:scaleX(1.0898)">0</div>
<div class="t" style="left:1756.37px;top:1788.00px;font-size:14.58px;transform-origin:100% 50%;transform:scaleX(1.0898)">400</div>
<div class="t" style="left:2003.34px;top:1879.00px;font-size:14.58px;transform-origin:50% 50%;transform:scaleX(1.0898)">400</div>
<div class="t" style="left:1756.37px;top:1863.00px;font-size:14.58px;transform-origin:100% 50%;transform:scaleX(1.0898)">800</div>
<div class="t" style="left:2078.34px;top:1879.00px;font-size:14.58px;transform-origin:50% 50%;transform:scaleX(1.0898)">800</div>
<div class="t" style="left:1929.78px;top:1898.00px;font-size:14.58px;transform-origin:50% 50%;transform:scaleX(1.1100)">km</div>
<div class="t" style="left:1735.08px;top:1711.00px;font-size:14.58px;transform-origin:9.72px 11.70px;transform:rotate(-90deg) scaleX(1.1100)">km</div>
<div class="t" style="left:1851.42px;top:1546.00px;font-size:20.42px;transform-origin:50% 50%;transform:scaleX(1.0569)">Normalized IR Data</div>
<div class="t" style="left:2131.37px;top:1563.00px;font-size:14.58px;transform-origin:100% 50%;transform:scaleX(1.0898)">800</div>
<div class="t" style="left:2153.34px;top:1879.00px;font-size:14.58px;transform-origin:50% 50%;transform:scaleX(1.0898)">800</div>
<div class="t" style="left:2131.37px;top:1638.00px;font-size:14.58px;transform-origin:100% 50%;transform:scaleX(1.0898)">400</div>
<div class="t" style="left:2228.34px;top:1879.00px;font-size:14.58px;transform-origin:50% 50%;transform:scaleX(1.0898)">400</div>
<div class="t" style="left:2147.59px;top:1713.00px;font-size:14.58px;transform-origin:100% 50%;transform:scaleX(1.0898)">0</div>
<div class="t" style="left:2311.45px;top:1879.00px;font-size:14.58px;transform-origin:50% 50%;transform:scaleX(1.0898)">0</div>
<div class="t" style="left:2131.37px;top:1788.00px;font-size:14.58px;transform-origin:100% 50%;transform:scaleX(1.0898)">400</div>
<div class="t" style="left:2378.34px;top:1879.00px;font-size:14.58px;transform-origin:50% 50%;transform:scaleX(1.0898)">400</div>
<div class="t" style="left:2131.37px;top:1863.00px;font-size:14.58px;transform-origin:100% 50%;transform:scaleX(1.0898)">800</div>
<div class="t" style="left:2453.34px;top:1879.00px;font-size:14.58px;transform-origin:50% 50%;transform:scaleX(1.0898)">800</div>
<div class="t" style="left:2304.78px;top:1898.00px;font-size:14.58px;transform-origin:50% 50%;transform:scaleX(1.1100)">km</div>
<div class="t" style="left:2110.08px;top:1711.00px;font-size:14.58px;transform-origin:9.72px 11.70px;transform:rotate(-90deg) scaleX(1.1100)">km</div>
<div class="t" style="left:2213.42px;top:1546.00px;font-size:20.42px;transform-origin:50% 50%;transform:scaleX(1.0545)">SHAP Value=-0.00104</div>
<div class="t" style="left:2531.37px;top:1563.00px;font-size:14.58px;transform-origin:100% 50%;transform:scaleX(1.0898)">164</div>
<div class="t" style="left:2553.34px;top:1879.00px;font-size:14.58px;transform-origin:50% 50%;transform:scaleX(1.0898)">164</div>
<div class="t" style="left:2539.48px;top:1638.00px;font-size:14.58px;transform-origin:100% 50%;transform:scaleX(1.0898)">82</div>
<div class="t" style="left:2632.39px;top:1879.00px;font-size:14.58px;transform-origin:50% 50%;transform:scaleX(1.0898)">82</div>
<div class="t" style="left:2547.59px;top:1713.00px;font-size:14.58px;transform-origin:100% 50%;transform:scaleX(1.0898)">0</div>
<div class="t" style="left:2711.45px;top:1879.00px;font-size:14.58px;transform-origin:50% 50%;transform:scaleX(1.0898)">0</div>
<div class="t" style="left:2539.48px;top:1788.00px;font-size:14.58px;transform-origin:100% 50%;transform:scaleX(1.0898)">82</div>
<div class="t" style="left:2782.39px;top:1879.00px;font-size:14.58px;transform-origin:50% 50%;transform:scaleX(1.0898)">82</div>
<div class="t" style="left:2531.37px;top:1863.00px;font-size:14.58px;transform-origin:100% 50%;transform:scaleX(1.0898)">164</div>
<div class="t" style="left:2853.34px;top:1879.00px;font-size:14.58px;transform-origin:50% 50%;transform:scaleX(1.0898)">164</div>
<div class="t" style="left:2704.78px;top:1898.00px;font-size:14.58px;transform-origin:50% 50%;transform:scaleX(1.1100)">km</div>
<div class="t" style="left:2510.08px;top:1711.00px;font-size:14.58px;transform-origin:9.72px 11.70px;transform:rotate(-90deg) scaleX(1.1100)">km</div>
<div class="t" style="left:2623.54px;top:1546.00px;font-size:20.42px;transform-origin:50% 50%;transform:scaleX(1.0557)">20250928 at 15UTC</div>
<div class="t" style="left:2906.37px;top:1563.00px;font-size:14.58px;transform-origin:100% 50%;transform:scaleX(1.0898)">164</div>
<div class="t" style="left:2928.34px;top:1879.00px;font-size:14.58px;transform-origin:50% 50%;transform:scaleX(1.0898)">164</div>
<div class="t" style="left:2914.48px;top:1638.00px;font-size:14.58px;transform-origin:100% 50%;transform:scaleX(1.0898)">82</div>
<div class="t" style="left:3007.39px;top:1879.00px;font-size:14.58px;transform-origin:50% 50%;transform:scaleX(1.0898)">82</div>
<div class="t" style="left:2922.59px;top:1713.00px;font-size:14.58px;transform-origin:100% 50%;transform:scaleX(1.0898)">0</div>
<div class="t" style="left:3086.45px;top:1879.00px;font-size:14.58px;transform-origin:50% 50%;transform:scaleX(1.0898)">0</div>
<div class="t" style="left:2914.48px;top:1788.00px;font-size:14.58px;transform-origin:100% 50%;transform:scaleX(1.0898)">82</div>
<div class="t" style="left:3157.39px;top:1879.00px;font-size:14.58px;transform-origin:50% 50%;transform:scaleX(1.0898)">82</div>
<div class="t" style="left:2906.37px;top:1863.00px;font-size:14.58px;transform-origin:100% 50%;transform:scaleX(1.0898)">164</div>
<div class="t" style="left:3228.34px;top:1879.00px;font-size:14.58px;transform-origin:50% 50%;transform:scaleX(1.0898)">164</div>
<div class="t" style="left:3079.78px;top:1898.00px;font-size:14.58px;transform-origin:50% 50%;transform:scaleX(1.1100)">km</div>
<div class="t" style="left:2885.08px;top:1711.00px;font-size:14.58px;transform-origin:9.72px 11.70px;transform:rotate(-90deg) scaleX(1.1100)">km</div>
<div class="t" style="left:2998.54px;top:1546.00px;font-size:20.42px;transform-origin:50% 50%;transform:scaleX(1.0557)">20250928 at 18UTC</div>
<div class="t" style="left:3281.37px;top:1563.00px;font-size:14.58px;transform-origin:100% 50%;transform:scaleX(1.0898)">164</div>
<div class="t" style="left:3303.34px;top:1879.00px;font-size:14.58px;transform-origin:50% 50%;transform:scaleX(1.0898)">164</div>
<div class="t" style="left:3289.48px;top:1638.00px;font-size:14.58px;transform-origin:100% 50%;transform:scaleX(1.0898)">82</div>
<div class="t" style="left:3382.39px;top:1879.00px;font-size:14.58px;transform-origin:50% 50%;transform:scaleX(1.0898)">82</div>
<div class="t" style="left:3297.59px;top:1713.00px;font-size:14.58px;transform-origin:100% 50%;transform:scaleX(1.0898)">0</div>
<div class="t" style="left:3461.45px;top:1879.00px;font-size:14.58px;transform-origin:50% 50%;transform:scaleX(1.0898)">0</div>
<div class="t" style="left:3289.48px;top:1788.00px;font-size:14.58px;transform-origin:100% 50%;transform:scaleX(1.0898)">82</div>
<div class="t" style="left:3532.39px;top:1879.00px;font-size:14.58px;transform-origin:50% 50%;transform:scaleX(1.0898)">82</div>
<div class="t" style="left:3281.37px;top:1863.00px;font-size:14.58px;transform-origin:100% 50%;transform:scaleX(1.0898)">164</div>
<div class="t" style="left:3603.34px;top:1879.00px;font-size:14.58px;transform-origin:50% 50%;transform:scaleX(1.0898)">164</div>
<div class="t" style="left:3454.78px;top:1898.00px;font-size:14.58px;transform-origin:50% 50%;transform:scaleX(1.1100)">km</div>
<div class="t" style="left:3260.08px;top:1711.00px;font-size:14.58px;transform-origin:9.72px 11.70px;transform:rotate(-90deg) scaleX(1.1100)">km</div>
<div class="t" style="left:3389.46px;top:1546.00px;font-size:20.42px;transform-origin:50% 50%;transform:scaleX(1.0710)">Normalized Data</div>
<div class="t" style="left:3656.37px;top:1563.00px;font-size:14.58px;transform-origin:100% 50%;transform:scaleX(1.0898)">164</div>
<div class="t" style="left:3678.34px;top:1879.00px;font-size:14.58px;transform-origin:50% 50%;transform:scaleX(1.0898)">164</div>
<div class="t" style="left:3664.48px;top:1638.00px;font-size:14.58px;transform-origin:100% 50%;transform:scaleX(1.0898)">82</div>
<div class="t" style="left:3757.39px;top:1879.00px;font-size:14.58px;transform-origin:50% 50%;transform:scaleX(1.0898)">82</div>
<div class="t" style="left:3672.59px;top:1713.00px;font-size:14.58px;transform-origin:100% 50%;transform:scaleX(1.0898)">0</div>
<div class="t" style="left:3836.45px;top:1879.00px;font-size:14.58px;transform-origin:50% 50%;transform:scaleX(1.0898)">0</div>
<div class="t" style="left:3664.48px;top:1788.00px;font-size:14.58px;transform-origin:100% 50%;transform:scaleX(1.0898)">82</div>
<div class="t" style="left:3907.39px;top:1879.00px;font-size:14.58px;transform-origin:50% 50%;transform:scaleX(1.0898)">82</div>
<div class="t" style="left:3656.37px;top:1863.00px;font-size:14.58px;transform-origin:100% 50%;transform:scaleX(1.0898)">164</div>
<div class="t" style="left:3978.34px;top:1879.00px;font-size:14.58px;transform-origin:50% 50%;transform:scaleX(1.0898)">164</div>
<div class="t" style="left:3829.78px;top:1898.00px;font-size:14.58px;transform-origin:50% 50%;transform:scaleX(1.1100)">km</div>
<div class="t" style="left:3635.08px;top:1711.00px;font-size:14.58px;transform-origin:9.72px 11.70px;transform:rotate(-90deg) scaleX(1.1100)">km</div>
<div class="t" style="left:3738.42px;top:1546.00px;font-size:20.42px;transform-origin:50% 50%;transform:scaleX(1.0545)">SHAP Value=-0.00880</div>
<div class="t" style="left:1462.20px;top:3.00px;font-size:26.25px;transform-origin:50% 50%;transform:scaleX(1.0567)">Comparison of IR SHAP Values for 45kt RI in 36h for Neoguri at 20250928 18UTC</div>
<div class="t" style="left:2656.42px;top:6.00px;font-size:23.33px;transform-origin:50% 50%;transform:scaleX(1.0660)">Comparison of 3h IR difference within 3 degrees SHAP Values for 45kt RI in 36h for Neoguri at 20250928 18UTC</div>
<div class="t" style="left:1403.34px;top:1979.00px;font-size:14.58px;transform-origin:50% 50%;transform:scaleX(1.0898)">180</div>
<div class="t" style="left:1449.49px;top:1979.00px;font-size:14.58px;transform-origin:50% 50%;transform:scaleX(1.0898)">200</div>
<div class="t" style="left:1495.64px;top:1979.00px;font-size:14.58px;transform-origin:50% 50%;transform:scaleX(1.0898)">220</div>
<div class="t" style="left:1541.80px;top:1979.00px;font-size:14.58px;transform-origin:50% 50%;transform:scaleX(1.0898)">240</div>
<div class="t" style="left:1587.95px;top:1979.00px;font-size:14.58px;transform-origin:50% 50%;transform:scaleX(1.0898)">260</div>
<div class="t" style="left:1634.11px;top:1979.00px;font-size:14.58px;transform-origin:50% 50%;transform:scaleX(1.0898)">280</div>
<div class="t" style="left:1680.26px;top:1979.00px;font-size:14.58px;transform-origin:50% 50%;transform:scaleX(1.0898)">300</div>
<div class="t" style="left:1459.64px;top:1923.00px;font-size:17.50px;transform-origin:50% 50%;transform:scaleX(1.0810)">Brightness Temperature [K]</div>
<div class="t" style="left:1782.19px;top:1979.00px;font-size:14.58px;transform-origin:50% 50%;transform:scaleX(1.2316)">−2</div>
<div class="t" style="left:1857.19px;top:1979.00px;font-size:14.58px;transform-origin:50% 50%;transform:scaleX(1.2316)">−1</div>
<div class="t" style="left:1936.45px;top:1979.00px;font-size:14.58px;transform-origin:50% 50%;transform:scaleX(1.0898)">0</div>
<div class="t" style="left:2011.45px;top:1979.00px;font-size:14.58px;transform-origin:50% 50%;transform:scaleX(1.0898)">1</div>
<div class="t" style="left:2086.45px;top:1979.00px;font-size:14.58px;transform-origin:50% 50%;transform:scaleX(1.0898)">2</div>
<div class="t" style="left:1787.96px;top:1923.00px;font-size:17.50px;transform-origin:50% 50%;transform:scaleX(1.0774)">Normalized Brightness Temperature [K]</div>
<div class="t" style="left:2151.11px;top:1979.00px;font-size:14.58px;transform-origin:50% 50%;transform:scaleX(1.1717)">−1.0</div>
<div class="t" style="left:2226.11px;top:1979.00px;font-size:14.58px;transform-origin:50% 50%;transform:scaleX(1.1717)">−0.5</div>
<div class="t" style="left:2305.37px;top:1979.00px;font-size:14.58px;transform-origin:50% 50%;transform:scaleX(1.0898)">0.0</div>
<div class="t" style="left:2380.37px;top:1979.00px;font-size:14.58px;transform-origin:50% 50%;transform:scaleX(1.0898)">0.5</div>
<div class="t" style="left:2455.37px;top:1979.00px;font-size:14.58px;transform-origin:50% 50%;transform:scaleX(1.0898)">1.0</div>
<div class="t" style="left:2263.29px;top:1923.00px;font-size:17.50px;transform-origin:50% 50%;transform:scaleX(0.9991)">SHAP Values</div>
<div class="t" style="left:2432.66px;top:1996.00px;font-size:14.58px;transform-origin:100% 50%;transform:scaleX(1.1527)">1e−5</div>
<div class="t" style="left:2553.34px;top:1979.00px;font-size:14.58px;transform-origin:50% 50%;transform:scaleX(1.0898)">180</div>
<div class="t" style="left:2657.18px;top:1979.00px;font-size:14.58px;transform-origin:50% 50%;transform:scaleX(1.0898)">200</div>
<div class="t" style="left:2761.03px;top:1979.00px;font-size:14.58px;transform-origin:50% 50%;transform:scaleX(1.0898)">220</div>
<div class="t" style="left:2864.87px;top:1979.00px;font-size:14.58px;transform-origin:50% 50%;transform:scaleX(1.0898)">240</div>
<div class="t" style="left:2968.72px;top:1979.00px;font-size:14.58px;transform-origin:50% 50%;transform:scaleX(1.0898)">260</div>
<div class="t" style="left:3072.57px;top:1979.00px;font-size:14.58px;transform-origin:50% 50%;transform:scaleX(1.0898)">280</div>
<div class="t" style="left:3176.41px;top:1979.00px;font-size:14.58px;transform-origin:50% 50%;transform:scaleX(1.0898)">300</div>
<div class="t" style="left:2797.14px;top:1923.00px;font-size:17.50px;transform-origin:50% 50%;transform:scaleX(1.0810)">Brightness Temperature [K]</div>
<div class="t" style="left:3317.84px;top:1979.00px;font-size:14.58px;transform-origin:50% 50%;transform:scaleX(1.2316)">−3</div>
<div class="t" style="left:3364.29px;top:1979.00px;font-size:14.58px;transform-origin:50% 50%;transform:scaleX(1.2316)">−2</div>
<div class="t" style="left:3410.74px;top:1979.00px;font-size:14.58px;transform-origin:50% 50%;transform:scaleX(1.2316)">−1</div>
<div class="t" style="left:3461.45px;top:1979.00px;font-size:14.58px;transform-origin:50% 50%;transform:scaleX(1.0898)">0</div>
<div class="t" style="left:3507.90px;top:1979.00px;font-size:14.58px;transform-origin:50% 50%;transform:scaleX(1.0898)">1</div>
<div class="t" style="left:3554.35px;top:1979.00px;font-size:14.58px;transform-origin:50% 50%;transform:scaleX(1.0898)">2</div>
<div class="t" style="left:3600.80px;top:1979.00px;font-size:14.58px;transform-origin:50% 50%;transform:scaleX(1.0898)">3</div>
<div class="t" style="left:3312.96px;top:1923.00px;font-size:17.50px;transform-origin:50% 50%;transform:scaleX(1.0774)">Normalized Brightness Temperature [K]</div>
<div class="t" style="left:3698.35px;top:1979.00px;font-size:14.58px;transform-origin:50% 50%;transform:scaleX(1.1342)">−0.0004</div>
<div class="t" style="left:3756.15px;top:1979.00px;font-size:14.58px;transform-origin:50% 50%;transform:scaleX(1.1342)">−0.0002</div>
<div class="t" style="left:3818.20px;top:1979.00px;font-size:14.58px;transform-origin:50% 50%;transform:scaleX(1.0898)">0.0000</div>
<div class="t" style="left:3876.00px;top:1979.00px;font-size:14.58px;transform-origin:50% 50%;transform:scaleX(1.0898)">0.0002</div>
<div class="t" style="left:3933.80px;top:1979.00px;font-size:14.58px;transform-origin:50% 50%;transform:scaleX(1.0898)">0.0004</div>
<div class="t" style="left:3788.29px;top:1923.00px;font-size:17.50px;transform-origin:50% 50%;transform:scaleX(0.9991)">SHAP Values</div>
</body></html>
